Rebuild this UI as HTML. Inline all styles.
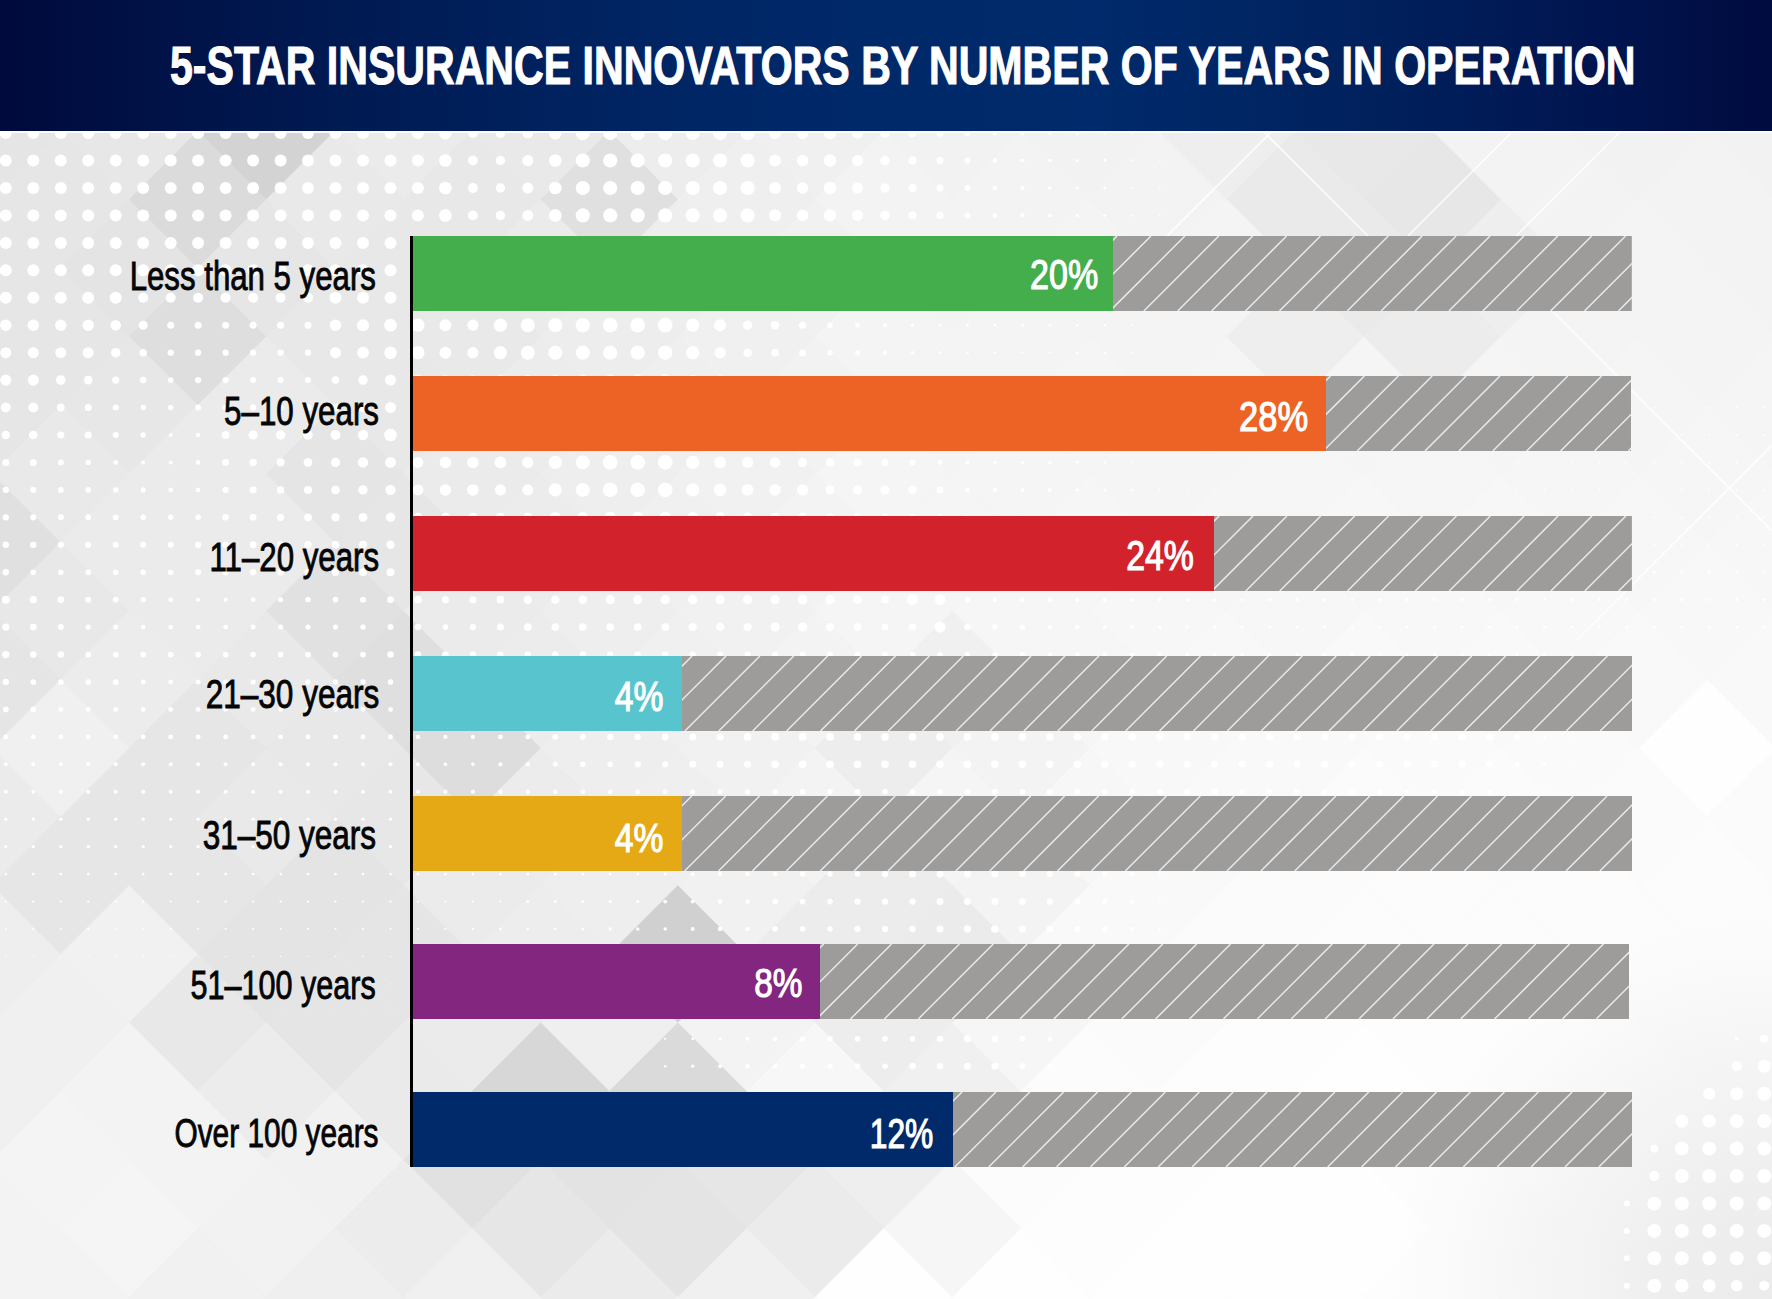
<!DOCTYPE html>
<html lang="en">
<head>
<meta charset="utf-8">
<title>5-Star Insurance Innovators by Number of Years in Operation</title>
<style>
html,body{margin:0;padding:0;}
body{width:1772px;height:1299px;overflow:hidden;position:relative;background:#ececec;font-family:"Liberation Sans",Arial,sans-serif;}
#bgsvg{position:absolute;left:0;top:0;}
#hdr{position:absolute;left:0;top:0;width:1772px;height:131px;background:linear-gradient(90deg,#000a3c 0%,#00174e 15%,#002360 33%,#00296a 48%,#002a6b 62%,#00225e 76%,#001550 90%,#000b3f 100%);}
.t{position:absolute;left:0;top:0;white-space:nowrap;line-height:1;transform-origin:0 0;}
#title{font-weight:700;font-size:55px;color:#fff;-webkit-text-stroke:1.1px #fff;}
.lab{font-weight:400;font-size:40px;color:#050505;-webkit-text-stroke:0.9px #050505;}
.pct{font-weight:400;font-size:43px;color:#fff;-webkit-text-stroke:1.2px #fff;}
#hline{position:absolute;left:0;top:131px;width:1772px;height:1.5px;background:rgba(255,255,255,0.85);}
#axis{position:absolute;left:410px;top:236px;width:3px;height:931px;background:#000;}
.bar{position:absolute;left:413px;height:75px;}
.hs{position:absolute;display:block;}
</style>
</head>
<body>
<svg id="bgsvg" width="1772" height="1299" viewBox="0 0 1772 1299"><rect width="1772" height="1299" fill="#e8e8e8"/><polygon points="-76.4,130.7 -7.8,62.1 60.8,130.7 -7.8,199.3" fill="#e5e5e5" stroke="#e5e5e5" stroke-width="0.6"/><polygon points="-76.4,267.9 -7.8,199.3 60.8,267.9 -7.8,336.5" fill="#e6e6e6" stroke="#e6e6e6" stroke-width="0.6"/><polygon points="-76.4,405.1 -7.8,336.5 60.8,405.1 -7.8,473.7" fill="#e6e6e6" stroke="#e6e6e6" stroke-width="0.6"/><polygon points="-76.4,542.3 -7.8,473.7 60.8,542.3 -7.8,610.9" fill="#e0e0e0" stroke="#e0e0e0" stroke-width="0.6"/><polygon points="-76.4,679.5 -7.8,610.9 60.8,679.5 -7.8,748.1" fill="#e5e5e5" stroke="#e5e5e5" stroke-width="0.6"/><polygon points="-76.4,816.7 -7.8,748.1 60.8,816.7 -7.8,885.3" fill="#ebebeb" stroke="#ebebeb" stroke-width="0.6"/><polygon points="-76.4,953.9 -7.8,885.3 60.8,953.9 -7.8,1022.5" fill="#eeeeee" stroke="#eeeeee" stroke-width="0.6"/><polygon points="-76.4,1091.1 -7.8,1022.5 60.8,1091.1 -7.8,1159.7" fill="#f0f0f0" stroke="#f0f0f0" stroke-width="0.6"/><polygon points="-76.4,1228.3 -7.8,1159.7 60.8,1228.3 -7.8,1296.9" fill="#f3f3f3" stroke="#f3f3f3" stroke-width="0.6"/><polygon points="-76.4,1365.5 -7.8,1296.9 60.8,1365.5 -7.8,1434.1" fill="#f4f4f4" stroke="#f4f4f4" stroke-width="0.6"/><polygon points="-7.8,199.3 60.8,130.7 129.4,199.3 60.8,267.9" fill="#e6e6e6" stroke="#e6e6e6" stroke-width="0.6"/><polygon points="-7.8,336.5 60.8,267.9 129.4,336.5 60.8,405.1" fill="#e6e6e6" stroke="#e6e6e6" stroke-width="0.6"/><polygon points="-7.8,473.7 60.8,405.1 129.4,473.7 60.8,542.3" fill="#e9e9e9" stroke="#e9e9e9" stroke-width="0.6"/><polygon points="-7.8,610.9 60.8,542.3 129.4,610.9 60.8,679.5" fill="#e8e8e8" stroke="#e8e8e8" stroke-width="0.6"/><polygon points="-7.8,748.1 60.8,679.5 129.4,748.1 60.8,816.7" fill="#f0f0f0" stroke="#f0f0f0" stroke-width="0.6"/><polygon points="-7.8,885.3 60.8,816.7 129.4,885.3 60.8,953.9" fill="#e6e6e6" stroke="#e6e6e6" stroke-width="0.6"/><polygon points="-7.8,1022.5 60.8,953.9 129.4,1022.5 60.8,1091.1" fill="#f0f0f0" stroke="#f0f0f0" stroke-width="0.6"/><polygon points="-7.8,1159.7 60.8,1091.1 129.4,1159.7 60.8,1228.3" fill="#f4f4f4" stroke="#f4f4f4" stroke-width="0.6"/><polygon points="-7.8,1296.9 60.8,1228.3 129.4,1296.9 60.8,1365.5" fill="#f3f3f3" stroke="#f3f3f3" stroke-width="0.6"/><polygon points="60.8,130.7 129.4,62.1 198.0,130.7 129.4,199.3" fill="#e7e7e7" stroke="#e7e7e7" stroke-width="0.6"/><polygon points="60.8,267.9 129.4,199.3 198.0,267.9 129.4,336.5" fill="#e4e4e4" stroke="#e4e4e4" stroke-width="0.6"/><polygon points="60.8,405.1 129.4,336.5 198.0,405.1 129.4,473.7" fill="#e7e7e7" stroke="#e7e7e7" stroke-width="0.6"/><polygon points="60.8,542.3 129.4,473.7 198.0,542.3 129.4,610.9" fill="#ebebeb" stroke="#ebebeb" stroke-width="0.6"/><polygon points="60.8,679.5 129.4,610.9 198.0,679.5 129.4,748.1" fill="#ececec" stroke="#ececec" stroke-width="0.6"/><polygon points="60.8,816.7 129.4,748.1 198.0,816.7 129.4,885.3" fill="#e6e6e6" stroke="#e6e6e6" stroke-width="0.6"/><polygon points="60.8,953.9 129.4,885.3 198.0,953.9 129.4,1022.5" fill="#f1f1f1" stroke="#f1f1f1" stroke-width="0.6"/><polygon points="60.8,1091.1 129.4,1022.5 198.0,1091.1 129.4,1159.7" fill="#f3f3f3" stroke="#f3f3f3" stroke-width="0.6"/><polygon points="60.8,1228.3 129.4,1159.7 198.0,1228.3 129.4,1296.9" fill="#f5f5f5" stroke="#f5f5f5" stroke-width="0.6"/><polygon points="60.8,1365.5 129.4,1296.9 198.0,1365.5 129.4,1434.1" fill="#f2f2f2" stroke="#f2f2f2" stroke-width="0.6"/><polygon points="129.4,199.3 198.0,130.7 266.6,199.3 198.0,267.9" fill="#dbdbdb" stroke="#dbdbdb" stroke-width="0.6"/><polygon points="129.4,336.5 198.0,267.9 266.6,336.5 198.0,405.1" fill="#dedede" stroke="#dedede" stroke-width="0.6"/><polygon points="129.4,473.7 198.0,405.1 266.6,473.7 198.0,542.3" fill="#ebebeb" stroke="#ebebeb" stroke-width="0.6"/><polygon points="129.4,610.9 198.0,542.3 266.6,610.9 198.0,679.5" fill="#ebebeb" stroke="#ebebeb" stroke-width="0.6"/><polygon points="129.4,748.1 198.0,679.5 266.6,748.1 198.0,816.7" fill="#e6e6e6" stroke="#e6e6e6" stroke-width="0.6"/><polygon points="129.4,885.3 198.0,816.7 266.6,885.3 198.0,953.9" fill="#e6e6e6" stroke="#e6e6e6" stroke-width="0.6"/><polygon points="129.4,1022.5 198.0,953.9 266.6,1022.5 198.0,1091.1" fill="#e8e8e8" stroke="#e8e8e8" stroke-width="0.6"/><polygon points="129.4,1159.7 198.0,1091.1 266.6,1159.7 198.0,1228.3" fill="#f3f3f3" stroke="#f3f3f3" stroke-width="0.6"/><polygon points="129.4,1296.9 198.0,1228.3 266.6,1296.9 198.0,1365.5" fill="#f1f1f1" stroke="#f1f1f1" stroke-width="0.6"/><polygon points="198.0,130.7 266.6,62.1 335.2,130.7 266.6,199.3" fill="#d3d3d3" stroke="#d3d3d3" stroke-width="0.6"/><polygon points="198.0,267.9 266.6,199.3 335.2,267.9 266.6,336.5" fill="#e6e6e6" stroke="#e6e6e6" stroke-width="0.6"/><polygon points="198.0,405.1 266.6,336.5 335.2,405.1 266.6,473.7" fill="#ebebeb" stroke="#ebebeb" stroke-width="0.6"/><polygon points="198.0,542.3 266.6,473.7 335.2,542.3 266.6,610.9" fill="#ebebeb" stroke="#ebebeb" stroke-width="0.6"/><polygon points="198.0,679.5 266.6,610.9 335.2,679.5 266.6,748.1" fill="#e9e9e9" stroke="#e9e9e9" stroke-width="0.6"/><polygon points="198.0,816.7 266.6,748.1 335.2,816.7 266.6,885.3" fill="#e9e9e9" stroke="#e9e9e9" stroke-width="0.6"/><polygon points="198.0,953.9 266.6,885.3 335.2,953.9 266.6,1022.5" fill="#e4e4e4" stroke="#e4e4e4" stroke-width="0.6"/><polygon points="198.0,1091.1 266.6,1022.5 335.2,1091.1 266.6,1159.7" fill="#ececec" stroke="#ececec" stroke-width="0.6"/><polygon points="198.0,1228.3 266.6,1159.7 335.2,1228.3 266.6,1296.9" fill="#f2f2f2" stroke="#f2f2f2" stroke-width="0.6"/><polygon points="198.0,1365.5 266.6,1296.9 335.2,1365.5 266.6,1434.1" fill="#f0f0f0" stroke="#f0f0f0" stroke-width="0.6"/><polygon points="266.6,199.3 335.2,130.7 403.8,199.3 335.2,267.9" fill="#e9e9e9" stroke="#e9e9e9" stroke-width="0.6"/><polygon points="266.6,336.5 335.2,267.9 403.8,336.5 335.2,405.1" fill="#e8e8e8" stroke="#e8e8e8" stroke-width="0.6"/><polygon points="266.6,473.7 335.2,405.1 403.8,473.7 335.2,542.3" fill="#e5e5e5" stroke="#e5e5e5" stroke-width="0.6"/><polygon points="266.6,610.9 335.2,542.3 403.8,610.9 335.2,679.5" fill="#e1e1e1" stroke="#e1e1e1" stroke-width="0.6"/><polygon points="266.6,748.1 335.2,679.5 403.8,748.1 335.2,816.7" fill="#e8e8e8" stroke="#e8e8e8" stroke-width="0.6"/><polygon points="266.6,885.3 335.2,816.7 403.8,885.3 335.2,953.9" fill="#e4e4e4" stroke="#e4e4e4" stroke-width="0.6"/><polygon points="266.6,1022.5 335.2,953.9 403.8,1022.5 335.2,1091.1" fill="#e5e5e5" stroke="#e5e5e5" stroke-width="0.6"/><polygon points="266.6,1159.7 335.2,1091.1 403.8,1159.7 335.2,1228.3" fill="#f1f1f1" stroke="#f1f1f1" stroke-width="0.6"/><polygon points="266.6,1296.9 335.2,1228.3 403.8,1296.9 335.2,1365.5" fill="#efefef" stroke="#efefef" stroke-width="0.6"/><polygon points="335.2,130.7 403.8,62.1 472.4,130.7 403.8,199.3" fill="#ebebeb" stroke="#ebebeb" stroke-width="0.6"/><polygon points="335.2,267.9 403.8,199.3 472.4,267.9 403.8,336.5" fill="#e8e8e8" stroke="#e8e8e8" stroke-width="0.6"/><polygon points="335.2,405.1 403.8,336.5 472.4,405.1 403.8,473.7" fill="#e8e8e8" stroke="#e8e8e8" stroke-width="0.6"/><polygon points="335.2,542.3 403.8,473.7 472.4,542.3 403.8,610.9" fill="#e6e6e6" stroke="#e6e6e6" stroke-width="0.6"/><polygon points="335.2,679.5 403.8,610.9 472.4,679.5 403.8,748.1" fill="#dfdfdf" stroke="#dfdfdf" stroke-width="0.6"/><polygon points="335.2,816.7 403.8,748.1 472.4,816.7 403.8,885.3" fill="#e7e7e7" stroke="#e7e7e7" stroke-width="0.6"/><polygon points="335.2,953.9 403.8,885.3 472.4,953.9 403.8,1022.5" fill="#e5e5e5" stroke="#e5e5e5" stroke-width="0.6"/><polygon points="335.2,1091.1 403.8,1022.5 472.4,1091.1 403.8,1159.7" fill="#eaeaea" stroke="#eaeaea" stroke-width="0.6"/><polygon points="335.2,1228.3 403.8,1159.7 472.4,1228.3 403.8,1296.9" fill="#ececec" stroke="#ececec" stroke-width="0.6"/><polygon points="335.2,1365.5 403.8,1296.9 472.4,1365.5 403.8,1434.1" fill="#efefef" stroke="#efefef" stroke-width="0.6"/><polygon points="403.8,199.3 472.4,130.7 541.0,199.3 472.4,267.9" fill="#e8e8e8" stroke="#e8e8e8" stroke-width="0.6"/><polygon points="403.8,336.5 472.4,267.9 541.0,336.5 472.4,405.1" fill="#e9e9e9" stroke="#e9e9e9" stroke-width="0.6"/><polygon points="403.8,473.7 472.4,405.1 541.0,473.7 472.4,542.3" fill="#ebebeb" stroke="#ebebeb" stroke-width="0.6"/><polygon points="403.8,610.9 472.4,542.3 541.0,610.9 472.4,679.5" fill="#ebebeb" stroke="#ebebeb" stroke-width="0.6"/><polygon points="403.8,748.1 472.4,679.5 541.0,748.1 472.4,816.7" fill="#dddddd" stroke="#dddddd" stroke-width="0.6"/><polygon points="403.8,885.3 472.4,816.7 541.0,885.3 472.4,953.9" fill="#ebebeb" stroke="#ebebeb" stroke-width="0.6"/><polygon points="403.8,1022.5 472.4,953.9 541.0,1022.5 472.4,1091.1" fill="#ebebeb" stroke="#ebebeb" stroke-width="0.6"/><polygon points="403.8,1159.7 472.4,1091.1 541.0,1159.7 472.4,1228.3" fill="#e1e1e1" stroke="#e1e1e1" stroke-width="0.6"/><polygon points="403.8,1296.9 472.4,1228.3 541.0,1296.9 472.4,1365.5" fill="#f0f0f0" stroke="#f0f0f0" stroke-width="0.6"/><polygon points="472.4,130.7 541.0,62.1 609.6,130.7 541.0,199.3" fill="#e9e9e9" stroke="#e9e9e9" stroke-width="0.6"/><polygon points="472.4,267.9 541.0,199.3 609.6,267.9 541.0,336.5" fill="#ebebeb" stroke="#ebebeb" stroke-width="0.6"/><polygon points="472.4,405.1 541.0,336.5 609.6,405.1 541.0,473.7" fill="#ececec" stroke="#ececec" stroke-width="0.6"/><polygon points="472.4,542.3 541.0,473.7 609.6,542.3 541.0,610.9" fill="#ececec" stroke="#ececec" stroke-width="0.6"/><polygon points="472.4,679.5 541.0,610.9 609.6,679.5 541.0,748.1" fill="#ececec" stroke="#ececec" stroke-width="0.6"/><polygon points="472.4,816.7 541.0,748.1 609.6,816.7 541.0,885.3" fill="#ececec" stroke="#ececec" stroke-width="0.6"/><polygon points="472.4,953.9 541.0,885.3 609.6,953.9 541.0,1022.5" fill="#ededed" stroke="#ededed" stroke-width="0.6"/><polygon points="472.4,1091.1 541.0,1022.5 609.6,1091.1 541.0,1159.7" fill="#d7d7d7" stroke="#d7d7d7" stroke-width="0.6"/><polygon points="472.4,1228.3 541.0,1159.7 609.6,1228.3 541.0,1296.9" fill="#e6e6e6" stroke="#e6e6e6" stroke-width="0.6"/><polygon points="472.4,1365.5 541.0,1296.9 609.6,1365.5 541.0,1434.1" fill="#f2f2f2" stroke="#f2f2f2" stroke-width="0.6"/><polygon points="541.0,199.3 609.6,130.7 678.2,199.3 609.6,267.9" fill="#e0e0e0" stroke="#e0e0e0" stroke-width="0.6"/><polygon points="541.0,336.5 609.6,267.9 678.2,336.5 609.6,405.1" fill="#ededed" stroke="#ededed" stroke-width="0.6"/><polygon points="541.0,473.7 609.6,405.1 678.2,473.7 609.6,542.3" fill="#eeeeee" stroke="#eeeeee" stroke-width="0.6"/><polygon points="541.0,610.9 609.6,542.3 678.2,610.9 609.6,679.5" fill="#eeeeee" stroke="#eeeeee" stroke-width="0.6"/><polygon points="541.0,748.1 609.6,679.5 678.2,748.1 609.6,816.7" fill="#eeeeee" stroke="#eeeeee" stroke-width="0.6"/><polygon points="541.0,885.3 609.6,816.7 678.2,885.3 609.6,953.9" fill="#eeeeee" stroke="#eeeeee" stroke-width="0.6"/><polygon points="541.0,1022.5 609.6,953.9 678.2,1022.5 609.6,1091.1" fill="#efefef" stroke="#efefef" stroke-width="0.6"/><polygon points="541.0,1159.7 609.6,1091.1 678.2,1159.7 609.6,1228.3" fill="#e3e3e3" stroke="#e3e3e3" stroke-width="0.6"/><polygon points="541.0,1296.9 609.6,1228.3 678.2,1296.9 609.6,1365.5" fill="#ebebeb" stroke="#ebebeb" stroke-width="0.6"/><polygon points="609.6,130.7 678.2,62.1 746.8,130.7 678.2,199.3" fill="#ededed" stroke="#ededed" stroke-width="0.6"/><polygon points="609.6,267.9 678.2,199.3 746.8,267.9 678.2,336.5" fill="#eeeeee" stroke="#eeeeee" stroke-width="0.6"/><polygon points="609.6,405.1 678.2,336.5 746.8,405.1 678.2,473.7" fill="#efefef" stroke="#efefef" stroke-width="0.6"/><polygon points="609.6,542.3 678.2,473.7 746.8,542.3 678.2,610.9" fill="#f0f0f0" stroke="#f0f0f0" stroke-width="0.6"/><polygon points="609.6,679.5 678.2,610.9 746.8,679.5 678.2,748.1" fill="#f0f0f0" stroke="#f0f0f0" stroke-width="0.6"/><polygon points="609.6,816.7 678.2,748.1 746.8,816.7 678.2,885.3" fill="#efefef" stroke="#efefef" stroke-width="0.6"/><polygon points="609.6,953.9 678.2,885.3 746.8,953.9 678.2,1022.5" fill="#d0d0d0" stroke="#d0d0d0" stroke-width="0.6"/><polygon points="609.6,1091.1 678.2,1022.5 746.8,1091.1 678.2,1159.7" fill="#dadada" stroke="#dadada" stroke-width="0.6"/><polygon points="609.6,1228.3 678.2,1159.7 746.8,1228.3 678.2,1296.9" fill="#e4e4e4" stroke="#e4e4e4" stroke-width="0.6"/><polygon points="609.6,1365.5 678.2,1296.9 746.8,1365.5 678.2,1434.1" fill="#f6f6f6" stroke="#f6f6f6" stroke-width="0.6"/><polygon points="678.2,199.3 746.8,130.7 815.4,199.3 746.8,267.9" fill="#efefef" stroke="#efefef" stroke-width="0.6"/><polygon points="678.2,336.5 746.8,267.9 815.4,336.5 746.8,405.1" fill="#f0f0f0" stroke="#f0f0f0" stroke-width="0.6"/><polygon points="678.2,473.7 746.8,405.1 815.4,473.7 746.8,542.3" fill="#f1f1f1" stroke="#f1f1f1" stroke-width="0.6"/><polygon points="678.2,610.9 746.8,542.3 815.4,610.9 746.8,679.5" fill="#f1f1f1" stroke="#f1f1f1" stroke-width="0.6"/><polygon points="678.2,748.1 746.8,679.5 815.4,748.1 746.8,816.7" fill="#f1f1f1" stroke="#f1f1f1" stroke-width="0.6"/><polygon points="678.2,885.3 746.8,816.7 815.4,885.3 746.8,953.9" fill="#f1f1f1" stroke="#f1f1f1" stroke-width="0.6"/><polygon points="678.2,1022.5 746.8,953.9 815.4,1022.5 746.8,1091.1" fill="#f3f3f3" stroke="#f3f3f3" stroke-width="0.6"/><polygon points="678.2,1159.7 746.8,1091.1 815.4,1159.7 746.8,1228.3" fill="#e6e6e6" stroke="#e6e6e6" stroke-width="0.6"/><polygon points="678.2,1296.9 746.8,1228.3 815.4,1296.9 746.8,1365.5" fill="#f0f0f0" stroke="#f0f0f0" stroke-width="0.6"/><polygon points="746.8,130.7 815.4,62.1 884.0,130.7 815.4,199.3" fill="#f0f0f0" stroke="#f0f0f0" stroke-width="0.6"/><polygon points="746.8,267.9 815.4,199.3 884.0,267.9 815.4,336.5" fill="#f1f1f1" stroke="#f1f1f1" stroke-width="0.6"/><polygon points="746.8,405.1 815.4,336.5 884.0,405.1 815.4,473.7" fill="#f2f2f2" stroke="#f2f2f2" stroke-width="0.6"/><polygon points="746.8,542.3 815.4,473.7 884.0,542.3 815.4,610.9" fill="#f3f3f3" stroke="#f3f3f3" stroke-width="0.6"/><polygon points="746.8,679.5 815.4,610.9 884.0,679.5 815.4,748.1" fill="#f3f3f3" stroke="#f3f3f3" stroke-width="0.6"/><polygon points="746.8,816.7 815.4,748.1 884.0,816.7 815.4,885.3" fill="#f3f3f3" stroke="#f3f3f3" stroke-width="0.6"/><polygon points="746.8,953.9 815.4,885.3 884.0,953.9 815.4,1022.5" fill="#ececec" stroke="#ececec" stroke-width="0.6"/><polygon points="746.8,1091.1 815.4,1022.5 884.0,1091.1 815.4,1159.7" fill="#f7f7f7" stroke="#f7f7f7" stroke-width="0.6"/><polygon points="746.8,1228.3 815.4,1159.7 884.0,1228.3 815.4,1296.9" fill="#ebebeb" stroke="#ebebeb" stroke-width="0.6"/><polygon points="746.8,1365.5 815.4,1296.9 884.0,1365.5 815.4,1434.1" fill="#fbfbfb" stroke="#fbfbfb" stroke-width="0.6"/><polygon points="815.4,199.3 884.0,130.7 952.6,199.3 884.0,267.9" fill="#f3f3f3" stroke="#f3f3f3" stroke-width="0.6"/><polygon points="815.4,336.5 884.0,267.9 952.6,336.5 884.0,405.1" fill="#f4f4f4" stroke="#f4f4f4" stroke-width="0.6"/><polygon points="815.4,473.7 884.0,405.1 952.6,473.7 884.0,542.3" fill="#f5f5f5" stroke="#f5f5f5" stroke-width="0.6"/><polygon points="815.4,610.9 884.0,542.3 952.6,610.9 884.0,679.5" fill="#f5f5f5" stroke="#f5f5f5" stroke-width="0.6"/><polygon points="815.4,748.1 884.0,679.5 952.6,748.1 884.0,816.7" fill="#ededed" stroke="#ededed" stroke-width="0.6"/><polygon points="815.4,885.3 884.0,816.7 952.6,885.3 884.0,953.9" fill="#ececec" stroke="#ececec" stroke-width="0.6"/><polygon points="815.4,1022.5 884.0,953.9 952.6,1022.5 884.0,1091.1" fill="#ededed" stroke="#ededed" stroke-width="0.6"/><polygon points="815.4,1159.7 884.0,1091.1 952.6,1159.7 884.0,1228.3" fill="#eeeeee" stroke="#eeeeee" stroke-width="0.6"/><polygon points="815.4,1296.9 884.0,1228.3 952.6,1296.9 884.0,1365.5" fill="#fefefe" stroke="#fefefe" stroke-width="0.6"/><polygon points="884.0,130.7 952.6,62.1 1021.2,130.7 952.6,199.3" fill="#f2f2f2" stroke="#f2f2f2" stroke-width="0.6"/><polygon points="884.0,267.9 952.6,199.3 1021.2,267.9 952.6,336.5" fill="#f3f3f3" stroke="#f3f3f3" stroke-width="0.6"/><polygon points="884.0,405.1 952.6,336.5 1021.2,405.1 952.6,473.7" fill="#f4f4f4" stroke="#f4f4f4" stroke-width="0.6"/><polygon points="884.0,542.3 952.6,473.7 1021.2,542.3 952.6,610.9" fill="#f5f5f5" stroke="#f5f5f5" stroke-width="0.6"/><polygon points="884.0,679.5 952.6,610.9 1021.2,679.5 952.6,748.1" fill="#f0f0f0" stroke="#f0f0f0" stroke-width="0.6"/><polygon points="884.0,816.7 952.6,748.1 1021.2,816.7 952.6,885.3" fill="#f5f5f5" stroke="#f5f5f5" stroke-width="0.6"/><polygon points="884.0,953.9 952.6,885.3 1021.2,953.9 952.6,1022.5" fill="#ebebeb" stroke="#ebebeb" stroke-width="0.6"/><polygon points="884.0,1091.1 952.6,1022.5 1021.2,1091.1 952.6,1159.7" fill="#f0f0f0" stroke="#f0f0f0" stroke-width="0.6"/><polygon points="884.0,1228.3 952.6,1159.7 1021.2,1228.3 952.6,1296.9" fill="#f6f6f6" stroke="#f6f6f6" stroke-width="0.6"/><polygon points="884.0,1365.5 952.6,1296.9 1021.2,1365.5 952.6,1434.1" fill="#fefefe" stroke="#fefefe" stroke-width="0.6"/><polygon points="952.6,199.3 1021.2,130.7 1089.8,199.3 1021.2,267.9" fill="#f3f3f3" stroke="#f3f3f3" stroke-width="0.6"/><polygon points="952.6,336.5 1021.2,267.9 1089.8,336.5 1021.2,405.1" fill="#f4f4f4" stroke="#f4f4f4" stroke-width="0.6"/><polygon points="952.6,473.7 1021.2,405.1 1089.8,473.7 1021.2,542.3" fill="#f5f5f5" stroke="#f5f5f5" stroke-width="0.6"/><polygon points="952.6,610.9 1021.2,542.3 1089.8,610.9 1021.2,679.5" fill="#f6f6f6" stroke="#f6f6f6" stroke-width="0.6"/><polygon points="952.6,748.1 1021.2,679.5 1089.8,748.1 1021.2,816.7" fill="#f3f3f3" stroke="#f3f3f3" stroke-width="0.6"/><polygon points="952.6,885.3 1021.2,816.7 1089.8,885.3 1021.2,953.9" fill="#f3f3f3" stroke="#f3f3f3" stroke-width="0.6"/><polygon points="952.6,1022.5 1021.2,953.9 1089.8,1022.5 1021.2,1091.1" fill="#f6f6f6" stroke="#f6f6f6" stroke-width="0.6"/><polygon points="952.6,1159.7 1021.2,1091.1 1089.8,1159.7 1021.2,1228.3" fill="#fcfcfc" stroke="#fcfcfc" stroke-width="0.6"/><polygon points="952.6,1296.9 1021.2,1228.3 1089.8,1296.9 1021.2,1365.5" fill="#fefefe" stroke="#fefefe" stroke-width="0.6"/><polygon points="1021.2,130.7 1089.8,62.1 1158.4,130.7 1089.8,199.3" fill="#f2f2f2" stroke="#f2f2f2" stroke-width="0.6"/><polygon points="1021.2,267.9 1089.8,199.3 1158.4,267.9 1089.8,336.5" fill="#f4f4f4" stroke="#f4f4f4" stroke-width="0.6"/><polygon points="1021.2,405.1 1089.8,336.5 1158.4,405.1 1089.8,473.7" fill="#f5f5f5" stroke="#f5f5f5" stroke-width="0.6"/><polygon points="1021.2,542.3 1089.8,473.7 1158.4,542.3 1089.8,610.9" fill="#f6f6f6" stroke="#f6f6f6" stroke-width="0.6"/><polygon points="1021.2,679.5 1089.8,610.9 1158.4,679.5 1089.8,748.1" fill="#f6f6f6" stroke="#f6f6f6" stroke-width="0.6"/><polygon points="1021.2,816.7 1089.8,748.1 1158.4,816.7 1089.8,885.3" fill="#f7f7f7" stroke="#f7f7f7" stroke-width="0.6"/><polygon points="1021.2,953.9 1089.8,885.3 1158.4,953.9 1089.8,1022.5" fill="#f9f9f9" stroke="#f9f9f9" stroke-width="0.6"/><polygon points="1021.2,1091.1 1089.8,1022.5 1158.4,1091.1 1089.8,1159.7" fill="#fcfcfc" stroke="#fcfcfc" stroke-width="0.6"/><polygon points="1021.2,1228.3 1089.8,1159.7 1158.4,1228.3 1089.8,1296.9" fill="#fdfdfd" stroke="#fdfdfd" stroke-width="0.6"/><polygon points="1021.2,1365.5 1089.8,1296.9 1158.4,1365.5 1089.8,1434.1" fill="#fefefe" stroke="#fefefe" stroke-width="0.6"/><polygon points="1089.8,199.3 1158.4,130.7 1227.0,199.3 1158.4,267.9" fill="#f3f3f3" stroke="#f3f3f3" stroke-width="0.6"/><polygon points="1089.8,336.5 1158.4,267.9 1227.0,336.5 1158.4,405.1" fill="#f4f4f4" stroke="#f4f4f4" stroke-width="0.6"/><polygon points="1089.8,473.7 1158.4,405.1 1227.0,473.7 1158.4,542.3" fill="#f5f5f5" stroke="#f5f5f5" stroke-width="0.6"/><polygon points="1089.8,610.9 1158.4,542.3 1227.0,610.9 1158.4,679.5" fill="#f7f7f7" stroke="#f7f7f7" stroke-width="0.6"/><polygon points="1089.8,748.1 1158.4,679.5 1227.0,748.1 1158.4,816.7" fill="#f8f8f8" stroke="#f8f8f8" stroke-width="0.6"/><polygon points="1089.8,885.3 1158.4,816.7 1227.0,885.3 1158.4,953.9" fill="#f9f9f9" stroke="#f9f9f9" stroke-width="0.6"/><polygon points="1089.8,1022.5 1158.4,953.9 1227.0,1022.5 1158.4,1091.1" fill="#fbfbfb" stroke="#fbfbfb" stroke-width="0.6"/><polygon points="1089.8,1159.7 1158.4,1091.1 1227.0,1159.7 1158.4,1228.3" fill="#fdfdfd" stroke="#fdfdfd" stroke-width="0.6"/><polygon points="1089.8,1296.9 1158.4,1228.3 1227.0,1296.9 1158.4,1365.5" fill="#fefefe" stroke="#fefefe" stroke-width="0.6"/><polygon points="1158.4,130.7 1227.0,62.1 1295.6,130.7 1227.0,199.3" fill="#eeeeee" stroke="#eeeeee" stroke-width="0.6"/><polygon points="1158.4,267.9 1227.0,199.3 1295.6,267.9 1227.0,336.5" fill="#f4f4f4" stroke="#f4f4f4" stroke-width="0.6"/><polygon points="1158.4,405.1 1227.0,336.5 1295.6,405.1 1227.0,473.7" fill="#f5f5f5" stroke="#f5f5f5" stroke-width="0.6"/><polygon points="1158.4,542.3 1227.0,473.7 1295.6,542.3 1227.0,610.9" fill="#f6f6f6" stroke="#f6f6f6" stroke-width="0.6"/><polygon points="1158.4,679.5 1227.0,610.9 1295.6,679.5 1227.0,748.1" fill="#f8f8f8" stroke="#f8f8f8" stroke-width="0.6"/><polygon points="1158.4,816.7 1227.0,748.1 1295.6,816.7 1227.0,885.3" fill="#f9f9f9" stroke="#f9f9f9" stroke-width="0.6"/><polygon points="1158.4,953.9 1227.0,885.3 1295.6,953.9 1227.0,1022.5" fill="#fbfbfb" stroke="#fbfbfb" stroke-width="0.6"/><polygon points="1158.4,1091.1 1227.0,1022.5 1295.6,1091.1 1227.0,1159.7" fill="#fdfdfd" stroke="#fdfdfd" stroke-width="0.6"/><polygon points="1158.4,1228.3 1227.0,1159.7 1295.6,1228.3 1227.0,1296.9" fill="#fefefe" stroke="#fefefe" stroke-width="0.6"/><polygon points="1158.4,1365.5 1227.0,1296.9 1295.6,1365.5 1227.0,1434.1" fill="#fefefe" stroke="#fefefe" stroke-width="0.6"/><polygon points="1227.0,199.3 1295.6,130.7 1364.2,199.3 1295.6,267.9" fill="#eaeaea" stroke="#eaeaea" stroke-width="0.6"/><polygon points="1227.0,336.5 1295.6,267.9 1364.2,336.5 1295.6,405.1" fill="#eeeeee" stroke="#eeeeee" stroke-width="0.6"/><polygon points="1227.0,473.7 1295.6,405.1 1364.2,473.7 1295.6,542.3" fill="#f6f6f6" stroke="#f6f6f6" stroke-width="0.6"/><polygon points="1227.0,610.9 1295.6,542.3 1364.2,610.9 1295.6,679.5" fill="#f7f7f7" stroke="#f7f7f7" stroke-width="0.6"/><polygon points="1227.0,748.1 1295.6,679.5 1364.2,748.1 1295.6,816.7" fill="#f9f9f9" stroke="#f9f9f9" stroke-width="0.6"/><polygon points="1227.0,885.3 1295.6,816.7 1364.2,885.3 1295.6,953.9" fill="#fbfbfb" stroke="#fbfbfb" stroke-width="0.6"/><polygon points="1227.0,1022.5 1295.6,953.9 1364.2,1022.5 1295.6,1091.1" fill="#fdfdfd" stroke="#fdfdfd" stroke-width="0.6"/><polygon points="1227.0,1159.7 1295.6,1091.1 1364.2,1159.7 1295.6,1228.3" fill="#fefefe" stroke="#fefefe" stroke-width="0.6"/><polygon points="1227.0,1296.9 1295.6,1228.3 1364.2,1296.9 1295.6,1365.5" fill="#fefefe" stroke="#fefefe" stroke-width="0.6"/><polygon points="1295.6,130.7 1364.2,62.1 1432.8,130.7 1364.2,199.3" fill="#e8e8e8" stroke="#e8e8e8" stroke-width="0.6"/><polygon points="1295.6,267.9 1364.2,199.3 1432.8,267.9 1364.2,336.5" fill="#eaeaea" stroke="#eaeaea" stroke-width="0.6"/><polygon points="1295.6,405.1 1364.2,336.5 1432.8,405.1 1364.2,473.7" fill="#f5f5f5" stroke="#f5f5f5" stroke-width="0.6"/><polygon points="1295.6,542.3 1364.2,473.7 1432.8,542.3 1364.2,610.9" fill="#f7f7f7" stroke="#f7f7f7" stroke-width="0.6"/><polygon points="1295.6,679.5 1364.2,610.9 1432.8,679.5 1364.2,748.1" fill="#f9f9f9" stroke="#f9f9f9" stroke-width="0.6"/><polygon points="1295.6,816.7 1364.2,748.1 1432.8,816.7 1364.2,885.3" fill="#fbfbfb" stroke="#fbfbfb" stroke-width="0.6"/><polygon points="1295.6,953.9 1364.2,885.3 1432.8,953.9 1364.2,1022.5" fill="#fcfcfc" stroke="#fcfcfc" stroke-width="0.6"/><polygon points="1295.6,1091.1 1364.2,1022.5 1432.8,1091.1 1364.2,1159.7" fill="#fefefe" stroke="#fefefe" stroke-width="0.6"/><polygon points="1295.6,1228.3 1364.2,1159.7 1432.8,1228.3 1364.2,1296.9" fill="#fefefe" stroke="#fefefe" stroke-width="0.6"/><polygon points="1295.6,1365.5 1364.2,1296.9 1432.8,1365.5 1364.2,1434.1" fill="#fefefe" stroke="#fefefe" stroke-width="0.6"/><polygon points="1364.2,199.3 1432.8,130.7 1501.4,199.3 1432.8,267.9" fill="#e7e7e7" stroke="#e7e7e7" stroke-width="0.6"/><polygon points="1364.2,336.5 1432.8,267.9 1501.4,336.5 1432.8,405.1" fill="#ececec" stroke="#ececec" stroke-width="0.6"/><polygon points="1364.2,473.7 1432.8,405.1 1501.4,473.7 1432.8,542.3" fill="#f6f6f6" stroke="#f6f6f6" stroke-width="0.6"/><polygon points="1364.2,610.9 1432.8,542.3 1501.4,610.9 1432.8,679.5" fill="#f8f8f8" stroke="#f8f8f8" stroke-width="0.6"/><polygon points="1364.2,748.1 1432.8,679.5 1501.4,748.1 1432.8,816.7" fill="#fafafa" stroke="#fafafa" stroke-width="0.6"/><polygon points="1364.2,885.3 1432.8,816.7 1501.4,885.3 1432.8,953.9" fill="#fcfcfc" stroke="#fcfcfc" stroke-width="0.6"/><polygon points="1364.2,1022.5 1432.8,953.9 1501.4,1022.5 1432.8,1091.1" fill="#fdfdfd" stroke="#fdfdfd" stroke-width="0.6"/><polygon points="1364.2,1159.7 1432.8,1091.1 1501.4,1159.7 1432.8,1228.3" fill="#fdfdfd" stroke="#fdfdfd" stroke-width="0.6"/><polygon points="1364.2,1296.9 1432.8,1228.3 1501.4,1296.9 1432.8,1365.5" fill="#fdfdfd" stroke="#fdfdfd" stroke-width="0.6"/><polygon points="1432.8,130.7 1501.4,62.1 1570.0,130.7 1501.4,199.3" fill="#f3f3f3" stroke="#f3f3f3" stroke-width="0.6"/><polygon points="1432.8,267.9 1501.4,199.3 1570.0,267.9 1501.4,336.5" fill="#eeeeee" stroke="#eeeeee" stroke-width="0.6"/><polygon points="1432.8,405.1 1501.4,336.5 1570.0,405.1 1501.4,473.7" fill="#f5f5f5" stroke="#f5f5f5" stroke-width="0.6"/><polygon points="1432.8,542.3 1501.4,473.7 1570.0,542.3 1501.4,610.9" fill="#f7f7f7" stroke="#f7f7f7" stroke-width="0.6"/><polygon points="1432.8,679.5 1501.4,610.9 1570.0,679.5 1501.4,748.1" fill="#f9f9f9" stroke="#f9f9f9" stroke-width="0.6"/><polygon points="1432.8,816.7 1501.4,748.1 1570.0,816.7 1501.4,885.3" fill="#fbfbfb" stroke="#fbfbfb" stroke-width="0.6"/><polygon points="1432.8,953.9 1501.4,885.3 1570.0,953.9 1501.4,1022.5" fill="#fcfcfc" stroke="#fcfcfc" stroke-width="0.6"/><polygon points="1432.8,1091.1 1501.4,1022.5 1570.0,1091.1 1501.4,1159.7" fill="#fdfdfd" stroke="#fdfdfd" stroke-width="0.6"/><polygon points="1432.8,1228.3 1501.4,1159.7 1570.0,1228.3 1501.4,1296.9" fill="#fdfdfd" stroke="#fdfdfd" stroke-width="0.6"/><polygon points="1432.8,1365.5 1501.4,1296.9 1570.0,1365.5 1501.4,1434.1" fill="#fcfcfc" stroke="#fcfcfc" stroke-width="0.6"/><polygon points="1501.4,199.3 1570.0,130.7 1638.6,199.3 1570.0,267.9" fill="#f3f3f3" stroke="#f3f3f3" stroke-width="0.6"/><polygon points="1501.4,336.5 1570.0,267.9 1638.6,336.5 1570.0,405.1" fill="#f4f4f4" stroke="#f4f4f4" stroke-width="0.6"/><polygon points="1501.4,473.7 1570.0,405.1 1638.6,473.7 1570.0,542.3" fill="#f6f6f6" stroke="#f6f6f6" stroke-width="0.6"/><polygon points="1501.4,610.9 1570.0,542.3 1638.6,610.9 1570.0,679.5" fill="#f8f8f8" stroke="#f8f8f8" stroke-width="0.6"/><polygon points="1501.4,748.1 1570.0,679.5 1638.6,748.1 1570.0,816.7" fill="#fafafa" stroke="#fafafa" stroke-width="0.6"/><polygon points="1501.4,885.3 1570.0,816.7 1638.6,885.3 1570.0,953.9" fill="#fcfcfc" stroke="#fcfcfc" stroke-width="0.6"/><polygon points="1501.4,1022.5 1570.0,953.9 1638.6,1022.5 1570.0,1091.1" fill="#fdfdfd" stroke="#fdfdfd" stroke-width="0.6"/><polygon points="1501.4,1159.7 1570.0,1091.1 1638.6,1159.7 1570.0,1228.3" fill="#fefefe" stroke="#fefefe" stroke-width="0.6"/><polygon points="1501.4,1296.9 1570.0,1228.3 1638.6,1296.9 1570.0,1365.5" fill="#fefefe" stroke="#fefefe" stroke-width="0.6"/><polygon points="1570.0,130.7 1638.6,62.1 1707.2,130.7 1638.6,199.3" fill="#f2f2f2" stroke="#f2f2f2" stroke-width="0.6"/><polygon points="1570.0,267.9 1638.6,199.3 1707.2,267.9 1638.6,336.5" fill="#f4f4f4" stroke="#f4f4f4" stroke-width="0.6"/><polygon points="1570.0,405.1 1638.6,336.5 1707.2,405.1 1638.6,473.7" fill="#f5f5f5" stroke="#f5f5f5" stroke-width="0.6"/><polygon points="1570.0,542.3 1638.6,473.7 1707.2,542.3 1638.6,610.9" fill="#f7f7f7" stroke="#f7f7f7" stroke-width="0.6"/><polygon points="1570.0,679.5 1638.6,610.9 1707.2,679.5 1638.6,748.1" fill="#f9f9f9" stroke="#f9f9f9" stroke-width="0.6"/><polygon points="1570.0,816.7 1638.6,748.1 1707.2,816.7 1638.6,885.3" fill="#fbfbfb" stroke="#fbfbfb" stroke-width="0.6"/><polygon points="1570.0,953.9 1638.6,885.3 1707.2,953.9 1638.6,1022.5" fill="#fcfcfc" stroke="#fcfcfc" stroke-width="0.6"/><polygon points="1570.0,1091.1 1638.6,1022.5 1707.2,1091.1 1638.6,1159.7" fill="#fdfdfd" stroke="#fdfdfd" stroke-width="0.6"/><polygon points="1570.0,1228.3 1638.6,1159.7 1707.2,1228.3 1638.6,1296.9" fill="#fdfdfd" stroke="#fdfdfd" stroke-width="0.6"/><polygon points="1570.0,1365.5 1638.6,1296.9 1707.2,1365.5 1638.6,1434.1" fill="#fefefe" stroke="#fefefe" stroke-width="0.6"/><polygon points="1638.6,199.3 1707.2,130.7 1775.8,199.3 1707.2,267.9" fill="#f3f3f3" stroke="#f3f3f3" stroke-width="0.6"/><polygon points="1638.6,336.5 1707.2,267.9 1775.8,336.5 1707.2,405.1" fill="#f4f4f4" stroke="#f4f4f4" stroke-width="0.6"/><polygon points="1638.6,473.7 1707.2,405.1 1775.8,473.7 1707.2,542.3" fill="#f6f6f6" stroke="#f6f6f6" stroke-width="0.6"/><polygon points="1638.6,610.9 1707.2,542.3 1775.8,610.9 1707.2,679.5" fill="#f8f8f8" stroke="#f8f8f8" stroke-width="0.6"/><polygon points="1638.6,748.1 1707.2,679.5 1775.8,748.1 1707.2,816.7" fill="#fefefe" stroke="#fefefe" stroke-width="0.6"/><polygon points="1638.6,885.3 1707.2,816.7 1775.8,885.3 1707.2,953.9" fill="#fcfcfc" stroke="#fcfcfc" stroke-width="0.6"/><polygon points="1638.6,1022.5 1707.2,953.9 1775.8,1022.5 1707.2,1091.1" fill="#fcfcfc" stroke="#fcfcfc" stroke-width="0.6"/><polygon points="1638.6,1159.7 1707.2,1091.1 1775.8,1159.7 1707.2,1228.3" fill="#fcfcfc" stroke="#fcfcfc" stroke-width="0.6"/><polygon points="1638.6,1296.9 1707.2,1228.3 1775.8,1296.9 1707.2,1365.5" fill="#fcfcfc" stroke="#fcfcfc" stroke-width="0.6"/><polygon points="1707.2,130.7 1775.8,62.1 1844.4,130.7 1775.8,199.3" fill="#f2f2f2" stroke="#f2f2f2" stroke-width="0.6"/><polygon points="1707.2,267.9 1775.8,199.3 1844.4,267.9 1775.8,336.5" fill="#f3f3f3" stroke="#f3f3f3" stroke-width="0.6"/><polygon points="1707.2,405.1 1775.8,336.5 1844.4,405.1 1775.8,473.7" fill="#f5f5f5" stroke="#f5f5f5" stroke-width="0.6"/><polygon points="1707.2,542.3 1775.8,473.7 1844.4,542.3 1775.8,610.9" fill="#f7f7f7" stroke="#f7f7f7" stroke-width="0.6"/><polygon points="1707.2,679.5 1775.8,610.9 1844.4,679.5 1775.8,748.1" fill="#f9f9f9" stroke="#f9f9f9" stroke-width="0.6"/><polygon points="1707.2,816.7 1775.8,748.1 1844.4,816.7 1775.8,885.3" fill="#fbfbfb" stroke="#fbfbfb" stroke-width="0.6"/><polygon points="1707.2,953.9 1775.8,885.3 1844.4,953.9 1775.8,1022.5" fill="#fcfcfc" stroke="#fcfcfc" stroke-width="0.6"/><polygon points="1707.2,1091.1 1775.8,1022.5 1844.4,1091.1 1775.8,1159.7" fill="#fcfcfc" stroke="#fcfcfc" stroke-width="0.6"/><polygon points="1707.2,1228.3 1775.8,1159.7 1844.4,1228.3 1775.8,1296.9" fill="#fcfcfc" stroke="#fcfcfc" stroke-width="0.6"/><polygon points="1707.2,1365.5 1775.8,1296.9 1844.4,1365.5 1775.8,1434.1" fill="#fcfcfc" stroke="#fcfcfc" stroke-width="0.6"/><defs><radialGradient id="cg" gradientUnits="userSpaceOnUse" cx="1772" cy="1299" r="380"><stop offset="0" stop-color="#ebebeb" stop-opacity="1"/><stop offset="0.3" stop-color="#ededed" stop-opacity="0.9"/><stop offset="1" stop-color="#ededed" stop-opacity="0"/></radialGradient></defs><rect x="1300" y="880" width="472" height="419" fill="url(#cg)"/><g fill="#fff"><circle cx="5.8" cy="133.1" r="6.00"/><circle cx="33.3" cy="133.1" r="6.00"/><circle cx="60.8" cy="133.1" r="6.00"/><circle cx="88.2" cy="133.1" r="6.00"/><circle cx="115.7" cy="133.1" r="6.00"/><circle cx="143.2" cy="133.1" r="6.00"/><circle cx="170.7" cy="133.1" r="6.00"/><circle cx="198.1" cy="133.1" r="6.00"/><circle cx="225.6" cy="133.1" r="6.00"/><circle cx="253.1" cy="133.1" r="6.00"/><circle cx="280.6" cy="133.1" r="6.00"/><circle cx="308.0" cy="133.1" r="6.00"/><circle cx="335.5" cy="133.1" r="6.00"/><circle cx="363.0" cy="133.1" r="6.00"/><circle cx="390.5" cy="133.1" r="6.00"/><circle cx="417.9" cy="133.1" r="6.00"/><circle cx="445.4" cy="133.1" r="6.35"/><circle cx="472.9" cy="133.1" r="4.90"/><circle cx="500.4" cy="133.1" r="4.75"/><circle cx="527.8" cy="133.1" r="5.50"/><circle cx="555.3" cy="133.1" r="6.35"/><circle cx="582.8" cy="133.1" r="7.10"/><circle cx="610.2" cy="133.1" r="7.10"/><circle cx="637.7" cy="133.1" r="7.10"/><circle cx="665.2" cy="133.1" r="7.10"/><circle cx="692.7" cy="133.1" r="7.10"/><circle cx="720.1" cy="133.1" r="7.10"/><circle cx="747.6" cy="133.1" r="7.10"/><circle cx="775.1" cy="133.1" r="6.05"/><circle cx="802.6" cy="133.1" r="5.80"/><circle cx="830.0" cy="133.1" r="6.25"/><circle cx="857.5" cy="133.1" r="5.50"/><circle cx="885.0" cy="133.1" r="4.75"/><circle cx="912.5" cy="133.1" r="4.15"/><circle cx="940.0" cy="133.1" r="3.60"/><circle cx="967.4" cy="133.1" r="2.95"/><circle cx="994.9" cy="133.1" r="2.35"/><circle cx="1022.4" cy="133.1" r="2.10"/><circle cx="1049.8" cy="133.1" r="1.80"/><circle cx="1077.3" cy="133.1" r="1.60"/><circle cx="1104.8" cy="133.1" r="1.40"/><circle cx="1132.3" cy="133.1" r="1.12"/><circle cx="1159.8" cy="133.1" r="0.85"/><circle cx="1187.2" cy="133.1" r="0.42"/><circle cx="5.8" cy="160.5" r="6.00"/><circle cx="33.3" cy="160.5" r="6.00"/><circle cx="60.8" cy="160.5" r="6.00"/><circle cx="88.2" cy="160.5" r="6.00"/><circle cx="115.7" cy="160.5" r="6.00"/><circle cx="143.2" cy="160.5" r="6.00"/><circle cx="170.7" cy="160.5" r="6.00"/><circle cx="198.1" cy="160.5" r="6.00"/><circle cx="225.6" cy="160.5" r="6.00"/><circle cx="253.1" cy="160.5" r="6.00"/><circle cx="280.6" cy="160.5" r="6.00"/><circle cx="308.0" cy="160.5" r="6.00"/><circle cx="335.5" cy="160.5" r="6.00"/><circle cx="363.0" cy="160.5" r="6.00"/><circle cx="390.5" cy="160.5" r="6.00"/><circle cx="417.9" cy="160.5" r="6.00"/><circle cx="445.4" cy="160.5" r="6.35"/><circle cx="472.9" cy="160.5" r="4.90"/><circle cx="500.4" cy="160.5" r="4.75"/><circle cx="527.8" cy="160.5" r="5.50"/><circle cx="555.3" cy="160.5" r="6.35"/><circle cx="582.8" cy="160.5" r="7.10"/><circle cx="610.2" cy="160.5" r="7.10"/><circle cx="637.7" cy="160.5" r="7.10"/><circle cx="665.2" cy="160.5" r="7.10"/><circle cx="692.7" cy="160.5" r="7.10"/><circle cx="720.1" cy="160.5" r="7.10"/><circle cx="747.6" cy="160.5" r="7.10"/><circle cx="775.1" cy="160.5" r="6.05"/><circle cx="802.6" cy="160.5" r="5.80"/><circle cx="830.0" cy="160.5" r="6.25"/><circle cx="857.5" cy="160.5" r="5.50"/><circle cx="885.0" cy="160.5" r="4.75"/><circle cx="912.5" cy="160.5" r="4.15"/><circle cx="940.0" cy="160.5" r="3.60"/><circle cx="967.4" cy="160.5" r="2.95"/><circle cx="994.9" cy="160.5" r="2.35"/><circle cx="1022.4" cy="160.5" r="2.10"/><circle cx="1049.8" cy="160.5" r="1.80"/><circle cx="1077.3" cy="160.5" r="1.60"/><circle cx="1104.8" cy="160.5" r="1.40"/><circle cx="1132.3" cy="160.5" r="1.12"/><circle cx="1159.8" cy="160.5" r="0.85"/><circle cx="1187.2" cy="160.5" r="0.42"/><circle cx="5.8" cy="188.0" r="6.00"/><circle cx="33.3" cy="188.0" r="6.00"/><circle cx="60.8" cy="188.0" r="6.00"/><circle cx="88.2" cy="188.0" r="6.00"/><circle cx="115.7" cy="188.0" r="6.00"/><circle cx="143.2" cy="188.0" r="6.00"/><circle cx="170.7" cy="188.0" r="6.00"/><circle cx="198.1" cy="188.0" r="6.00"/><circle cx="225.6" cy="188.0" r="6.00"/><circle cx="253.1" cy="188.0" r="6.00"/><circle cx="280.6" cy="188.0" r="6.00"/><circle cx="308.0" cy="188.0" r="6.00"/><circle cx="335.5" cy="188.0" r="6.00"/><circle cx="363.0" cy="188.0" r="6.00"/><circle cx="390.5" cy="188.0" r="6.00"/><circle cx="417.9" cy="188.0" r="6.00"/><circle cx="445.4" cy="188.0" r="6.35"/><circle cx="472.9" cy="188.0" r="4.90"/><circle cx="500.4" cy="188.0" r="4.75"/><circle cx="527.8" cy="188.0" r="5.50"/><circle cx="555.3" cy="188.0" r="6.35"/><circle cx="582.8" cy="188.0" r="7.10"/><circle cx="610.2" cy="188.0" r="7.10"/><circle cx="637.7" cy="188.0" r="7.10"/><circle cx="665.2" cy="188.0" r="7.10"/><circle cx="692.7" cy="188.0" r="7.10"/><circle cx="720.1" cy="188.0" r="7.10"/><circle cx="747.6" cy="188.0" r="7.10"/><circle cx="775.1" cy="188.0" r="6.05"/><circle cx="802.6" cy="188.0" r="5.80"/><circle cx="830.0" cy="188.0" r="6.25"/><circle cx="857.5" cy="188.0" r="5.50"/><circle cx="885.0" cy="188.0" r="4.75"/><circle cx="912.5" cy="188.0" r="4.15"/><circle cx="940.0" cy="188.0" r="3.60"/><circle cx="967.4" cy="188.0" r="2.95"/><circle cx="994.9" cy="188.0" r="2.35"/><circle cx="1022.4" cy="188.0" r="2.10"/><circle cx="1049.8" cy="188.0" r="1.80"/><circle cx="1077.3" cy="188.0" r="1.60"/><circle cx="1104.8" cy="188.0" r="1.40"/><circle cx="1132.3" cy="188.0" r="1.12"/><circle cx="1159.8" cy="188.0" r="0.85"/><circle cx="1187.2" cy="188.0" r="0.42"/><circle cx="5.8" cy="215.4" r="6.00"/><circle cx="33.3" cy="215.4" r="6.00"/><circle cx="60.8" cy="215.4" r="6.00"/><circle cx="88.2" cy="215.4" r="6.00"/><circle cx="115.7" cy="215.4" r="6.00"/><circle cx="143.2" cy="215.4" r="6.00"/><circle cx="170.7" cy="215.4" r="6.00"/><circle cx="198.1" cy="215.4" r="6.00"/><circle cx="225.6" cy="215.4" r="6.00"/><circle cx="253.1" cy="215.4" r="6.00"/><circle cx="280.6" cy="215.4" r="6.00"/><circle cx="308.0" cy="215.4" r="6.00"/><circle cx="335.5" cy="215.4" r="6.00"/><circle cx="363.0" cy="215.4" r="6.00"/><circle cx="390.5" cy="215.4" r="6.00"/><circle cx="417.9" cy="215.4" r="6.00"/><circle cx="445.4" cy="215.4" r="6.35"/><circle cx="472.9" cy="215.4" r="4.90"/><circle cx="500.4" cy="215.4" r="4.75"/><circle cx="527.8" cy="215.4" r="5.50"/><circle cx="555.3" cy="215.4" r="6.35"/><circle cx="582.8" cy="215.4" r="7.10"/><circle cx="610.2" cy="215.4" r="7.10"/><circle cx="637.7" cy="215.4" r="7.10"/><circle cx="665.2" cy="215.4" r="7.10"/><circle cx="692.7" cy="215.4" r="7.10"/><circle cx="720.1" cy="215.4" r="7.10"/><circle cx="747.6" cy="215.4" r="7.10"/><circle cx="775.1" cy="215.4" r="6.05"/><circle cx="802.6" cy="215.4" r="5.80"/><circle cx="830.0" cy="215.4" r="6.25"/><circle cx="857.5" cy="215.4" r="5.50"/><circle cx="885.0" cy="215.4" r="4.75"/><circle cx="912.5" cy="215.4" r="4.15"/><circle cx="940.0" cy="215.4" r="3.60"/><circle cx="967.4" cy="215.4" r="2.95"/><circle cx="994.9" cy="215.4" r="2.35"/><circle cx="1022.4" cy="215.4" r="2.10"/><circle cx="1049.8" cy="215.4" r="1.80"/><circle cx="1077.3" cy="215.4" r="1.60"/><circle cx="1104.8" cy="215.4" r="1.40"/><circle cx="1132.3" cy="215.4" r="1.12"/><circle cx="1159.8" cy="215.4" r="0.85"/><circle cx="1187.2" cy="215.4" r="0.42"/><circle cx="5.8" cy="242.9" r="6.00"/><circle cx="33.3" cy="242.9" r="6.00"/><circle cx="60.8" cy="242.9" r="6.00"/><circle cx="88.2" cy="242.9" r="6.00"/><circle cx="115.7" cy="242.9" r="6.00"/><circle cx="143.2" cy="242.9" r="6.00"/><circle cx="170.7" cy="242.9" r="6.00"/><circle cx="198.1" cy="242.9" r="6.00"/><circle cx="225.6" cy="242.9" r="6.00"/><circle cx="253.1" cy="242.9" r="6.00"/><circle cx="280.6" cy="242.9" r="6.00"/><circle cx="308.0" cy="242.9" r="6.00"/><circle cx="335.5" cy="242.9" r="6.00"/><circle cx="363.0" cy="242.9" r="6.00"/><circle cx="390.5" cy="242.9" r="6.00"/><circle cx="417.9" cy="242.9" r="6.00"/><circle cx="445.4" cy="242.9" r="6.35"/><circle cx="472.9" cy="242.9" r="4.90"/><circle cx="500.4" cy="242.9" r="4.75"/><circle cx="527.8" cy="242.9" r="5.50"/><circle cx="555.3" cy="242.9" r="6.35"/><circle cx="582.8" cy="242.9" r="7.10"/><circle cx="610.2" cy="242.9" r="7.10"/><circle cx="637.7" cy="242.9" r="7.10"/><circle cx="665.2" cy="242.9" r="7.10"/><circle cx="692.7" cy="242.9" r="7.10"/><circle cx="720.1" cy="242.9" r="7.10"/><circle cx="747.6" cy="242.9" r="7.10"/><circle cx="775.1" cy="242.9" r="6.05"/><circle cx="802.6" cy="242.9" r="5.80"/><circle cx="830.0" cy="242.9" r="6.25"/><circle cx="857.5" cy="242.9" r="5.50"/><circle cx="885.0" cy="242.9" r="4.75"/><circle cx="912.5" cy="242.9" r="4.15"/><circle cx="940.0" cy="242.9" r="3.60"/><circle cx="967.4" cy="242.9" r="2.95"/><circle cx="994.9" cy="242.9" r="2.35"/><circle cx="1022.4" cy="242.9" r="2.10"/><circle cx="1049.8" cy="242.9" r="1.80"/><circle cx="1077.3" cy="242.9" r="1.60"/><circle cx="1104.8" cy="242.9" r="1.40"/><circle cx="1132.3" cy="242.9" r="1.12"/><circle cx="1159.8" cy="242.9" r="0.85"/><circle cx="1187.2" cy="242.9" r="0.42"/><circle cx="5.8" cy="270.3" r="6.00"/><circle cx="33.3" cy="270.3" r="6.00"/><circle cx="60.8" cy="270.3" r="6.00"/><circle cx="88.2" cy="270.3" r="6.00"/><circle cx="115.7" cy="270.3" r="6.00"/><circle cx="143.2" cy="270.3" r="6.00"/><circle cx="170.7" cy="270.3" r="6.00"/><circle cx="198.1" cy="270.3" r="6.00"/><circle cx="225.6" cy="270.3" r="6.00"/><circle cx="253.1" cy="270.3" r="6.00"/><circle cx="280.6" cy="270.3" r="6.00"/><circle cx="308.0" cy="270.3" r="6.00"/><circle cx="335.5" cy="270.3" r="6.00"/><circle cx="363.0" cy="270.3" r="6.00"/><circle cx="390.5" cy="270.3" r="6.00"/><circle cx="417.9" cy="270.3" r="6.00"/><circle cx="445.4" cy="270.3" r="5.79"/><circle cx="472.9" cy="270.3" r="5.59"/><circle cx="500.4" cy="270.3" r="5.38"/><circle cx="527.8" cy="270.3" r="5.17"/><circle cx="555.3" cy="270.3" r="4.97"/><circle cx="582.8" cy="270.3" r="4.76"/><circle cx="610.2" cy="270.3" r="4.55"/><circle cx="637.7" cy="270.3" r="4.34"/><circle cx="665.2" cy="270.3" r="4.14"/><circle cx="692.7" cy="270.3" r="3.93"/><circle cx="720.1" cy="270.3" r="3.72"/><circle cx="747.6" cy="270.3" r="3.52"/><circle cx="775.1" cy="270.3" r="3.31"/><circle cx="802.6" cy="270.3" r="3.10"/><circle cx="830.0" cy="270.3" r="2.90"/><circle cx="857.5" cy="270.3" r="2.69"/><circle cx="885.0" cy="270.3" r="2.48"/><circle cx="912.5" cy="270.3" r="2.28"/><circle cx="940.0" cy="270.3" r="2.07"/><circle cx="967.4" cy="270.3" r="1.86"/><circle cx="994.9" cy="270.3" r="1.66"/><circle cx="1022.4" cy="270.3" r="1.45"/><circle cx="1049.8" cy="270.3" r="1.24"/><circle cx="1077.3" cy="270.3" r="1.03"/><circle cx="1104.8" cy="270.3" r="0.83"/><circle cx="1132.3" cy="270.3" r="0.62"/><circle cx="1159.8" cy="270.3" r="0.41"/><circle cx="5.8" cy="297.8" r="6.00"/><circle cx="33.3" cy="297.8" r="6.00"/><circle cx="60.8" cy="297.8" r="6.00"/><circle cx="88.2" cy="297.8" r="6.00"/><circle cx="115.7" cy="297.8" r="6.00"/><circle cx="143.2" cy="297.8" r="5.00"/><circle cx="170.7" cy="297.8" r="5.00"/><circle cx="198.1" cy="297.8" r="5.00"/><circle cx="225.6" cy="297.8" r="5.00"/><circle cx="253.1" cy="297.8" r="5.00"/><circle cx="280.6" cy="297.8" r="5.00"/><circle cx="308.0" cy="297.8" r="5.00"/><circle cx="335.5" cy="297.8" r="6.00"/><circle cx="363.0" cy="297.8" r="6.00"/><circle cx="390.5" cy="297.8" r="6.00"/><circle cx="417.9" cy="297.8" r="6.00"/><circle cx="445.4" cy="297.8" r="5.79"/><circle cx="472.9" cy="297.8" r="5.59"/><circle cx="500.4" cy="297.8" r="5.38"/><circle cx="527.8" cy="297.8" r="5.17"/><circle cx="555.3" cy="297.8" r="4.97"/><circle cx="582.8" cy="297.8" r="4.76"/><circle cx="610.2" cy="297.8" r="4.55"/><circle cx="637.7" cy="297.8" r="4.34"/><circle cx="665.2" cy="297.8" r="4.14"/><circle cx="692.7" cy="297.8" r="3.93"/><circle cx="720.1" cy="297.8" r="3.72"/><circle cx="747.6" cy="297.8" r="3.52"/><circle cx="775.1" cy="297.8" r="3.31"/><circle cx="802.6" cy="297.8" r="3.10"/><circle cx="830.0" cy="297.8" r="2.90"/><circle cx="857.5" cy="297.8" r="2.69"/><circle cx="885.0" cy="297.8" r="2.48"/><circle cx="912.5" cy="297.8" r="2.28"/><circle cx="940.0" cy="297.8" r="2.07"/><circle cx="967.4" cy="297.8" r="1.86"/><circle cx="994.9" cy="297.8" r="1.66"/><circle cx="1022.4" cy="297.8" r="1.45"/><circle cx="1049.8" cy="297.8" r="1.24"/><circle cx="1077.3" cy="297.8" r="1.03"/><circle cx="1104.8" cy="297.8" r="0.83"/><circle cx="1132.3" cy="297.8" r="0.62"/><circle cx="1159.8" cy="297.8" r="0.41"/><circle cx="5.8" cy="325.2" r="5.75"/><circle cx="33.3" cy="325.2" r="5.75"/><circle cx="60.8" cy="325.2" r="5.75"/><circle cx="88.2" cy="325.2" r="5.75"/><circle cx="115.7" cy="325.2" r="5.25"/><circle cx="143.2" cy="325.2" r="4.50"/><circle cx="170.7" cy="325.2" r="3.50"/><circle cx="198.1" cy="325.2" r="3.50"/><circle cx="225.6" cy="325.2" r="3.50"/><circle cx="253.1" cy="325.2" r="3.50"/><circle cx="280.6" cy="325.2" r="3.50"/><circle cx="308.0" cy="325.2" r="3.50"/><circle cx="335.5" cy="325.2" r="5.75"/><circle cx="363.0" cy="325.2" r="6.05"/><circle cx="390.5" cy="325.2" r="6.35"/><circle cx="417.9" cy="325.2" r="6.65"/><circle cx="445.4" cy="325.2" r="5.95"/><circle cx="472.9" cy="325.2" r="5.60"/><circle cx="500.4" cy="325.2" r="6.65"/><circle cx="527.8" cy="325.2" r="7.00"/><circle cx="555.3" cy="325.2" r="7.12"/><circle cx="582.8" cy="325.2" r="7.23"/><circle cx="610.2" cy="325.2" r="7.35"/><circle cx="637.7" cy="325.2" r="7.35"/><circle cx="665.2" cy="325.2" r="7.35"/><circle cx="692.7" cy="325.2" r="6.65"/><circle cx="720.1" cy="325.2" r="5.95"/><circle cx="747.6" cy="325.2" r="4.60"/><circle cx="775.1" cy="325.2" r="4.20"/><circle cx="802.6" cy="325.2" r="3.50"/><circle cx="830.0" cy="325.2" r="2.80"/><circle cx="857.5" cy="325.2" r="2.45"/><circle cx="885.0" cy="325.2" r="2.10"/><circle cx="912.5" cy="325.2" r="1.75"/><circle cx="940.0" cy="325.2" r="1.40"/><circle cx="967.4" cy="325.2" r="1.37"/><circle cx="994.9" cy="325.2" r="1.33"/><circle cx="1022.4" cy="325.2" r="1.30"/><circle cx="1049.8" cy="325.2" r="1.27"/><circle cx="1077.3" cy="325.2" r="1.23"/><circle cx="1104.8" cy="325.2" r="1.20"/><circle cx="1132.3" cy="325.2" r="0.90"/><circle cx="1159.8" cy="325.2" r="0.60"/><circle cx="1187.2" cy="325.2" r="0.30"/><circle cx="5.8" cy="352.7" r="5.50"/><circle cx="33.3" cy="352.7" r="5.50"/><circle cx="60.8" cy="352.7" r="5.50"/><circle cx="88.2" cy="352.7" r="5.50"/><circle cx="115.7" cy="352.7" r="4.75"/><circle cx="143.2" cy="352.7" r="3.75"/><circle cx="170.7" cy="352.7" r="3.15"/><circle cx="198.1" cy="352.7" r="3.15"/><circle cx="225.6" cy="352.7" r="3.15"/><circle cx="253.1" cy="352.7" r="3.15"/><circle cx="280.6" cy="352.7" r="3.15"/><circle cx="308.0" cy="352.7" r="3.15"/><circle cx="335.5" cy="352.7" r="5.50"/><circle cx="363.0" cy="352.7" r="5.88"/><circle cx="390.5" cy="352.7" r="6.27"/><circle cx="417.9" cy="352.7" r="6.65"/><circle cx="445.4" cy="352.7" r="5.95"/><circle cx="472.9" cy="352.7" r="5.60"/><circle cx="500.4" cy="352.7" r="6.65"/><circle cx="527.8" cy="352.7" r="7.00"/><circle cx="555.3" cy="352.7" r="7.04"/><circle cx="582.8" cy="352.7" r="7.08"/><circle cx="610.2" cy="352.7" r="7.12"/><circle cx="637.7" cy="352.7" r="7.16"/><circle cx="665.2" cy="352.7" r="7.20"/><circle cx="692.7" cy="352.7" r="6.65"/><circle cx="720.1" cy="352.7" r="5.60"/><circle cx="747.6" cy="352.7" r="4.20"/><circle cx="775.1" cy="352.7" r="3.85"/><circle cx="802.6" cy="352.7" r="3.50"/><circle cx="830.0" cy="352.7" r="2.80"/><circle cx="857.5" cy="352.7" r="2.45"/><circle cx="885.0" cy="352.7" r="2.10"/><circle cx="912.5" cy="352.7" r="1.75"/><circle cx="940.0" cy="352.7" r="1.40"/><circle cx="967.4" cy="352.7" r="1.37"/><circle cx="994.9" cy="352.7" r="1.33"/><circle cx="1022.4" cy="352.7" r="1.30"/><circle cx="1049.8" cy="352.7" r="1.27"/><circle cx="1077.3" cy="352.7" r="1.23"/><circle cx="1104.8" cy="352.7" r="1.20"/><circle cx="1132.3" cy="352.7" r="0.90"/><circle cx="1159.8" cy="352.7" r="0.60"/><circle cx="1187.2" cy="352.7" r="0.30"/><circle cx="5.8" cy="380.1" r="5.55"/><circle cx="33.3" cy="380.1" r="5.55"/><circle cx="60.8" cy="380.1" r="4.80"/><circle cx="88.2" cy="380.1" r="4.30"/><circle cx="115.7" cy="380.1" r="3.65"/><circle cx="143.2" cy="380.1" r="3.30"/><circle cx="170.7" cy="380.1" r="2.90"/><circle cx="198.1" cy="380.1" r="3.15"/><circle cx="225.6" cy="380.1" r="3.11"/><circle cx="253.1" cy="380.1" r="3.08"/><circle cx="280.6" cy="380.1" r="3.04"/><circle cx="308.0" cy="380.1" r="3.00"/><circle cx="335.5" cy="380.1" r="3.75"/><circle cx="363.0" cy="380.1" r="4.75"/><circle cx="390.5" cy="380.1" r="5.50"/><circle cx="417.9" cy="380.1" r="5.50"/><circle cx="445.4" cy="380.1" r="4.80"/><circle cx="472.9" cy="380.1" r="4.95"/><circle cx="500.4" cy="380.1" r="5.10"/><circle cx="527.8" cy="380.1" r="5.25"/><circle cx="555.3" cy="380.1" r="5.40"/><circle cx="582.8" cy="380.1" r="5.55"/><circle cx="610.2" cy="380.1" r="5.70"/><circle cx="637.7" cy="380.1" r="5.85"/><circle cx="665.2" cy="380.1" r="6.00"/><circle cx="692.7" cy="380.1" r="5.42"/><circle cx="720.1" cy="380.1" r="4.83"/><circle cx="747.6" cy="380.1" r="4.25"/><circle cx="775.1" cy="380.1" r="3.67"/><circle cx="802.6" cy="380.1" r="3.08"/><circle cx="830.0" cy="380.1" r="2.50"/><circle cx="857.5" cy="380.1" r="2.29"/><circle cx="885.0" cy="380.1" r="2.08"/><circle cx="912.5" cy="380.1" r="1.88"/><circle cx="940.0" cy="380.1" r="1.67"/><circle cx="967.4" cy="380.1" r="1.46"/><circle cx="994.9" cy="380.1" r="1.25"/><circle cx="1022.4" cy="380.1" r="1.09"/><circle cx="1049.8" cy="380.1" r="0.94"/><circle cx="1077.3" cy="380.1" r="0.78"/><circle cx="1104.8" cy="380.1" r="0.62"/><circle cx="1132.3" cy="380.1" r="0.47"/><circle cx="1159.8" cy="380.1" r="0.31"/><circle cx="1736.7" cy="380.1" r="0.38"/><circle cx="1764.2" cy="380.1" r="0.50"/><circle cx="5.8" cy="407.5" r="4.95"/><circle cx="33.3" cy="407.5" r="4.95"/><circle cx="60.8" cy="407.5" r="3.90"/><circle cx="88.2" cy="407.5" r="3.55"/><circle cx="115.7" cy="407.5" r="3.05"/><circle cx="143.2" cy="407.5" r="2.65"/><circle cx="170.7" cy="407.5" r="2.65"/><circle cx="198.1" cy="407.5" r="2.90"/><circle cx="225.6" cy="407.5" r="3.02"/><circle cx="253.1" cy="407.5" r="3.13"/><circle cx="280.6" cy="407.5" r="3.25"/><circle cx="308.0" cy="407.5" r="3.62"/><circle cx="335.5" cy="407.5" r="4.00"/><circle cx="363.0" cy="407.5" r="4.75"/><circle cx="390.5" cy="407.5" r="5.50"/><circle cx="417.9" cy="407.5" r="5.50"/><circle cx="445.4" cy="407.5" r="4.75"/><circle cx="472.9" cy="407.5" r="4.91"/><circle cx="500.4" cy="407.5" r="5.06"/><circle cx="527.8" cy="407.5" r="5.22"/><circle cx="555.3" cy="407.5" r="5.38"/><circle cx="582.8" cy="407.5" r="5.53"/><circle cx="610.2" cy="407.5" r="5.69"/><circle cx="637.7" cy="407.5" r="5.84"/><circle cx="665.2" cy="407.5" r="6.00"/><circle cx="692.7" cy="407.5" r="5.46"/><circle cx="720.1" cy="407.5" r="4.92"/><circle cx="747.6" cy="407.5" r="4.38"/><circle cx="775.1" cy="407.5" r="3.83"/><circle cx="802.6" cy="407.5" r="3.29"/><circle cx="830.0" cy="407.5" r="2.75"/><circle cx="857.5" cy="407.5" r="2.49"/><circle cx="885.0" cy="407.5" r="2.23"/><circle cx="912.5" cy="407.5" r="1.98"/><circle cx="940.0" cy="407.5" r="1.72"/><circle cx="967.4" cy="407.5" r="1.46"/><circle cx="994.9" cy="407.5" r="1.20"/><circle cx="1022.4" cy="407.5" r="1.05"/><circle cx="1049.8" cy="407.5" r="0.90"/><circle cx="1077.3" cy="407.5" r="0.75"/><circle cx="1104.8" cy="407.5" r="0.60"/><circle cx="1132.3" cy="407.5" r="0.45"/><circle cx="1159.8" cy="407.5" r="0.30"/><circle cx="1489.5" cy="407.5" r="0.31"/><circle cx="1516.9" cy="407.5" r="0.34"/><circle cx="1544.4" cy="407.5" r="0.38"/><circle cx="1571.9" cy="407.5" r="0.41"/><circle cx="1599.4" cy="407.5" r="0.44"/><circle cx="1626.8" cy="407.5" r="0.47"/><circle cx="1654.3" cy="407.5" r="0.50"/><circle cx="1681.8" cy="407.5" r="0.62"/><circle cx="1709.2" cy="407.5" r="0.75"/><circle cx="1736.7" cy="407.5" r="0.88"/><circle cx="1764.2" cy="407.5" r="1.00"/><circle cx="5.8" cy="435.0" r="4.20"/><circle cx="33.3" cy="435.0" r="4.35"/><circle cx="60.8" cy="435.0" r="3.60"/><circle cx="88.2" cy="435.0" r="3.60"/><circle cx="115.7" cy="435.0" r="3.05"/><circle cx="143.2" cy="435.0" r="2.65"/><circle cx="170.7" cy="435.0" r="2.00"/><circle cx="198.1" cy="435.0" r="2.30"/><circle cx="225.6" cy="435.0" r="4.00"/><circle cx="253.1" cy="435.0" r="4.60"/><circle cx="280.6" cy="435.0" r="4.70"/><circle cx="308.0" cy="435.0" r="4.80"/><circle cx="335.5" cy="435.0" r="4.90"/><circle cx="363.0" cy="435.0" r="5.15"/><circle cx="390.5" cy="435.0" r="6.30"/><circle cx="417.9" cy="435.0" r="5.50"/><circle cx="445.4" cy="435.0" r="4.70"/><circle cx="472.9" cy="435.0" r="4.86"/><circle cx="500.4" cy="435.0" r="5.03"/><circle cx="527.8" cy="435.0" r="5.19"/><circle cx="555.3" cy="435.0" r="5.35"/><circle cx="582.8" cy="435.0" r="5.51"/><circle cx="610.2" cy="435.0" r="5.67"/><circle cx="637.7" cy="435.0" r="5.84"/><circle cx="665.2" cy="435.0" r="6.00"/><circle cx="692.7" cy="435.0" r="5.50"/><circle cx="720.1" cy="435.0" r="5.00"/><circle cx="747.6" cy="435.0" r="4.50"/><circle cx="775.1" cy="435.0" r="4.00"/><circle cx="802.6" cy="435.0" r="3.50"/><circle cx="830.0" cy="435.0" r="3.00"/><circle cx="857.5" cy="435.0" r="2.69"/><circle cx="885.0" cy="435.0" r="2.38"/><circle cx="912.5" cy="435.0" r="2.08"/><circle cx="940.0" cy="435.0" r="1.77"/><circle cx="967.4" cy="435.0" r="1.46"/><circle cx="994.9" cy="435.0" r="1.15"/><circle cx="1022.4" cy="435.0" r="1.01"/><circle cx="1049.8" cy="435.0" r="0.86"/><circle cx="1077.3" cy="435.0" r="0.72"/><circle cx="1104.8" cy="435.0" r="0.57"/><circle cx="1132.3" cy="435.0" r="0.43"/><circle cx="1407.0" cy="435.0" r="0.33"/><circle cx="1434.5" cy="435.0" r="0.38"/><circle cx="1462.0" cy="435.0" r="0.42"/><circle cx="1489.5" cy="435.0" r="0.47"/><circle cx="1516.9" cy="435.0" r="0.52"/><circle cx="1544.4" cy="435.0" r="0.56"/><circle cx="1571.9" cy="435.0" r="0.61"/><circle cx="1599.4" cy="435.0" r="0.66"/><circle cx="1626.8" cy="435.0" r="0.70"/><circle cx="1654.3" cy="435.0" r="0.75"/><circle cx="1681.8" cy="435.0" r="0.81"/><circle cx="1709.2" cy="435.0" r="0.88"/><circle cx="1736.7" cy="435.0" r="0.94"/><circle cx="1764.2" cy="435.0" r="1.00"/><circle cx="5.8" cy="462.4" r="3.50"/><circle cx="33.3" cy="462.4" r="3.50"/><circle cx="60.8" cy="462.4" r="2.95"/><circle cx="88.2" cy="462.4" r="2.65"/><circle cx="115.7" cy="462.4" r="2.45"/><circle cx="143.2" cy="462.4" r="1.90"/><circle cx="170.7" cy="462.4" r="2.00"/><circle cx="198.1" cy="462.4" r="2.30"/><circle cx="225.6" cy="462.4" r="3.45"/><circle cx="253.1" cy="462.4" r="3.74"/><circle cx="280.6" cy="462.4" r="4.03"/><circle cx="308.0" cy="462.4" r="4.31"/><circle cx="335.5" cy="462.4" r="4.60"/><circle cx="363.0" cy="462.4" r="5.15"/><circle cx="390.5" cy="462.4" r="5.45"/><circle cx="417.9" cy="462.4" r="5.50"/><circle cx="445.4" cy="462.4" r="5.75"/><circle cx="472.9" cy="462.4" r="5.75"/><circle cx="500.4" cy="462.4" r="5.95"/><circle cx="527.8" cy="462.4" r="5.60"/><circle cx="555.3" cy="462.4" r="6.65"/><circle cx="582.8" cy="462.4" r="7.00"/><circle cx="610.2" cy="462.4" r="7.35"/><circle cx="637.7" cy="462.4" r="7.35"/><circle cx="665.2" cy="462.4" r="7.35"/><circle cx="692.7" cy="462.4" r="6.65"/><circle cx="720.1" cy="462.4" r="5.95"/><circle cx="747.6" cy="462.4" r="5.60"/><circle cx="775.1" cy="462.4" r="5.25"/><circle cx="802.6" cy="462.4" r="4.60"/><circle cx="830.0" cy="462.4" r="4.20"/><circle cx="857.5" cy="462.4" r="3.85"/><circle cx="885.0" cy="462.4" r="3.50"/><circle cx="912.5" cy="462.4" r="2.80"/><circle cx="940.0" cy="462.4" r="2.45"/><circle cx="967.4" cy="462.4" r="2.10"/><circle cx="994.9" cy="462.4" r="1.75"/><circle cx="1022.4" cy="462.4" r="1.65"/><circle cx="1049.8" cy="462.4" r="1.55"/><circle cx="1077.3" cy="462.4" r="1.45"/><circle cx="1104.8" cy="462.4" r="1.35"/><circle cx="1132.3" cy="462.4" r="1.01"/><circle cx="1159.8" cy="462.4" r="0.68"/><circle cx="1187.2" cy="462.4" r="0.34"/><circle cx="1352.1" cy="462.4" r="0.31"/><circle cx="1379.5" cy="462.4" r="0.38"/><circle cx="1407.0" cy="462.4" r="0.44"/><circle cx="1434.5" cy="462.4" r="0.50"/><circle cx="1462.0" cy="462.4" r="0.56"/><circle cx="1489.5" cy="462.4" r="0.62"/><circle cx="1516.9" cy="462.4" r="0.69"/><circle cx="1544.4" cy="462.4" r="0.75"/><circle cx="1571.9" cy="462.4" r="0.81"/><circle cx="1599.4" cy="462.4" r="0.88"/><circle cx="1626.8" cy="462.4" r="0.94"/><circle cx="1654.3" cy="462.4" r="1.00"/><circle cx="1681.8" cy="462.4" r="1.00"/><circle cx="1709.2" cy="462.4" r="1.00"/><circle cx="1736.7" cy="462.4" r="1.00"/><circle cx="1764.2" cy="462.4" r="1.00"/><circle cx="5.8" cy="489.9" r="3.15"/><circle cx="33.3" cy="489.9" r="3.03"/><circle cx="60.8" cy="489.9" r="2.91"/><circle cx="88.2" cy="489.9" r="2.79"/><circle cx="115.7" cy="489.9" r="2.66"/><circle cx="143.2" cy="489.9" r="2.54"/><circle cx="170.7" cy="489.9" r="2.42"/><circle cx="198.1" cy="489.9" r="2.30"/><circle cx="225.6" cy="489.9" r="3.15"/><circle cx="253.1" cy="489.9" r="3.44"/><circle cx="280.6" cy="489.9" r="3.72"/><circle cx="308.0" cy="489.9" r="4.01"/><circle cx="335.5" cy="489.9" r="4.30"/><circle cx="363.0" cy="489.9" r="4.72"/><circle cx="390.5" cy="489.9" r="5.15"/><circle cx="417.9" cy="489.9" r="5.50"/><circle cx="445.4" cy="489.9" r="5.75"/><circle cx="472.9" cy="489.9" r="5.75"/><circle cx="500.4" cy="489.9" r="5.60"/><circle cx="527.8" cy="489.9" r="5.60"/><circle cx="555.3" cy="489.9" r="6.65"/><circle cx="582.8" cy="489.9" r="7.00"/><circle cx="610.2" cy="489.9" r="7.35"/><circle cx="637.7" cy="489.9" r="7.35"/><circle cx="665.2" cy="489.9" r="7.35"/><circle cx="692.7" cy="489.9" r="6.65"/><circle cx="720.1" cy="489.9" r="6.30"/><circle cx="747.6" cy="489.9" r="5.95"/><circle cx="775.1" cy="489.9" r="5.75"/><circle cx="802.6" cy="489.9" r="5.60"/><circle cx="830.0" cy="489.9" r="4.60"/><circle cx="857.5" cy="489.9" r="4.60"/><circle cx="885.0" cy="489.9" r="4.60"/><circle cx="912.5" cy="489.9" r="4.20"/><circle cx="940.0" cy="489.9" r="3.50"/><circle cx="967.4" cy="489.9" r="2.45"/><circle cx="994.9" cy="489.9" r="2.10"/><circle cx="1022.4" cy="489.9" r="1.99"/><circle cx="1049.8" cy="489.9" r="1.88"/><circle cx="1077.3" cy="489.9" r="1.76"/><circle cx="1104.8" cy="489.9" r="1.65"/><circle cx="1132.3" cy="489.9" r="1.36"/><circle cx="1159.8" cy="489.9" r="1.07"/><circle cx="1187.2" cy="489.9" r="0.79"/><circle cx="1214.7" cy="489.9" r="0.50"/><circle cx="1242.2" cy="489.9" r="0.53"/><circle cx="1269.7" cy="489.9" r="0.56"/><circle cx="1297.1" cy="489.9" r="0.59"/><circle cx="1324.6" cy="489.9" r="0.62"/><circle cx="1352.1" cy="489.9" r="0.66"/><circle cx="1379.5" cy="489.9" r="0.69"/><circle cx="1407.0" cy="489.9" r="0.72"/><circle cx="1434.5" cy="489.9" r="0.75"/><circle cx="1462.0" cy="489.9" r="0.78"/><circle cx="1489.5" cy="489.9" r="0.81"/><circle cx="1516.9" cy="489.9" r="0.84"/><circle cx="1544.4" cy="489.9" r="0.88"/><circle cx="1571.9" cy="489.9" r="0.91"/><circle cx="1599.4" cy="489.9" r="0.94"/><circle cx="1626.8" cy="489.9" r="0.97"/><circle cx="1654.3" cy="489.9" r="1.00"/><circle cx="1681.8" cy="489.9" r="1.00"/><circle cx="1709.2" cy="489.9" r="1.00"/><circle cx="1736.7" cy="489.9" r="1.00"/><circle cx="1764.2" cy="489.9" r="1.00"/><circle cx="5.8" cy="517.3" r="3.17"/><circle cx="33.3" cy="517.3" r="3.10"/><circle cx="60.8" cy="517.3" r="3.02"/><circle cx="88.2" cy="517.3" r="2.94"/><circle cx="115.7" cy="517.3" r="2.87"/><circle cx="143.2" cy="517.3" r="2.79"/><circle cx="170.7" cy="517.3" r="2.71"/><circle cx="198.1" cy="517.3" r="2.72"/><circle cx="225.6" cy="517.3" r="3.22"/><circle cx="253.1" cy="517.3" r="3.44"/><circle cx="280.6" cy="517.3" r="3.66"/><circle cx="308.0" cy="517.3" r="3.88"/><circle cx="335.5" cy="517.3" r="4.10"/><circle cx="363.0" cy="517.3" r="4.39"/><circle cx="390.5" cy="517.3" r="4.68"/><circle cx="417.9" cy="517.3" r="4.50"/><circle cx="445.4" cy="517.3" r="4.65"/><circle cx="472.9" cy="517.3" r="4.67"/><circle cx="500.4" cy="517.3" r="4.62"/><circle cx="527.8" cy="517.3" r="4.65"/><circle cx="555.3" cy="517.3" r="5.20"/><circle cx="582.8" cy="517.3" r="5.40"/><circle cx="610.2" cy="517.3" r="5.60"/><circle cx="637.7" cy="517.3" r="5.62"/><circle cx="665.2" cy="517.3" r="5.65"/><circle cx="692.7" cy="517.3" r="5.33"/><circle cx="720.1" cy="517.3" r="5.06"/><circle cx="747.6" cy="517.3" r="4.79"/><circle cx="775.1" cy="517.3" r="4.60"/><circle cx="802.6" cy="517.3" r="4.44"/><circle cx="830.0" cy="517.3" r="3.85"/><circle cx="857.5" cy="517.3" r="3.75"/><circle cx="885.0" cy="517.3" r="3.66"/><circle cx="912.5" cy="517.3" r="3.37"/><circle cx="940.0" cy="517.3" r="2.93"/><circle cx="967.4" cy="517.3" r="2.32"/><circle cx="994.9" cy="517.3" r="2.05"/><circle cx="1022.4" cy="517.3" r="1.93"/><circle cx="1049.8" cy="517.3" r="1.81"/><circle cx="1077.3" cy="517.3" r="1.69"/><circle cx="1104.8" cy="517.3" r="1.57"/><circle cx="1132.3" cy="517.3" r="1.37"/><circle cx="1159.8" cy="517.3" r="1.16"/><circle cx="1187.2" cy="517.3" r="0.96"/><circle cx="1214.7" cy="517.3" r="0.75"/><circle cx="1242.2" cy="517.3" r="0.77"/><circle cx="1269.7" cy="517.3" r="0.78"/><circle cx="1297.1" cy="517.3" r="0.80"/><circle cx="1324.6" cy="517.3" r="0.81"/><circle cx="1352.1" cy="517.3" r="0.83"/><circle cx="1379.5" cy="517.3" r="0.84"/><circle cx="1407.0" cy="517.3" r="0.86"/><circle cx="1434.5" cy="517.3" r="0.88"/><circle cx="1462.0" cy="517.3" r="0.89"/><circle cx="1489.5" cy="517.3" r="0.91"/><circle cx="1516.9" cy="517.3" r="0.92"/><circle cx="1544.4" cy="517.3" r="0.94"/><circle cx="1571.9" cy="517.3" r="0.95"/><circle cx="1599.4" cy="517.3" r="0.97"/><circle cx="1626.8" cy="517.3" r="0.98"/><circle cx="1654.3" cy="517.3" r="1.00"/><circle cx="1681.8" cy="517.3" r="1.00"/><circle cx="1709.2" cy="517.3" r="1.00"/><circle cx="1736.7" cy="517.3" r="1.00"/><circle cx="1764.2" cy="517.3" r="1.00"/><circle cx="5.8" cy="544.8" r="3.20"/><circle cx="33.3" cy="544.8" r="3.17"/><circle cx="60.8" cy="544.8" r="3.13"/><circle cx="88.2" cy="544.8" r="3.10"/><circle cx="115.7" cy="544.8" r="3.07"/><circle cx="143.2" cy="544.8" r="3.03"/><circle cx="170.7" cy="544.8" r="3.00"/><circle cx="198.1" cy="544.8" r="3.15"/><circle cx="225.6" cy="544.8" r="3.30"/><circle cx="253.1" cy="544.8" r="3.45"/><circle cx="280.6" cy="544.8" r="3.60"/><circle cx="308.0" cy="544.8" r="3.75"/><circle cx="335.5" cy="544.8" r="3.90"/><circle cx="363.0" cy="544.8" r="4.05"/><circle cx="390.5" cy="544.8" r="4.20"/><circle cx="417.9" cy="544.8" r="3.50"/><circle cx="445.4" cy="544.8" r="3.55"/><circle cx="472.9" cy="544.8" r="3.60"/><circle cx="500.4" cy="544.8" r="3.65"/><circle cx="527.8" cy="544.8" r="3.70"/><circle cx="555.3" cy="544.8" r="3.75"/><circle cx="582.8" cy="544.8" r="3.80"/><circle cx="610.2" cy="544.8" r="3.85"/><circle cx="637.7" cy="544.8" r="3.90"/><circle cx="665.2" cy="544.8" r="3.95"/><circle cx="692.7" cy="544.8" r="4.00"/><circle cx="720.1" cy="544.8" r="3.82"/><circle cx="747.6" cy="544.8" r="3.64"/><circle cx="775.1" cy="544.8" r="3.45"/><circle cx="802.6" cy="544.8" r="3.27"/><circle cx="830.0" cy="544.8" r="3.09"/><circle cx="857.5" cy="544.8" r="2.91"/><circle cx="885.0" cy="544.8" r="2.73"/><circle cx="912.5" cy="544.8" r="2.55"/><circle cx="940.0" cy="544.8" r="2.36"/><circle cx="967.4" cy="544.8" r="2.18"/><circle cx="994.9" cy="544.8" r="2.00"/><circle cx="1022.4" cy="544.8" r="1.88"/><circle cx="1049.8" cy="544.8" r="1.75"/><circle cx="1077.3" cy="544.8" r="1.62"/><circle cx="1104.8" cy="544.8" r="1.50"/><circle cx="1132.3" cy="544.8" r="1.38"/><circle cx="1159.8" cy="544.8" r="1.25"/><circle cx="1187.2" cy="544.8" r="1.12"/><circle cx="1214.7" cy="544.8" r="1.00"/><circle cx="1242.2" cy="544.8" r="1.00"/><circle cx="1269.7" cy="544.8" r="1.00"/><circle cx="1297.1" cy="544.8" r="1.00"/><circle cx="1324.6" cy="544.8" r="1.00"/><circle cx="1352.1" cy="544.8" r="1.00"/><circle cx="1379.5" cy="544.8" r="1.00"/><circle cx="1407.0" cy="544.8" r="1.00"/><circle cx="1434.5" cy="544.8" r="1.00"/><circle cx="1462.0" cy="544.8" r="1.00"/><circle cx="1489.5" cy="544.8" r="1.00"/><circle cx="1516.9" cy="544.8" r="1.00"/><circle cx="1544.4" cy="544.8" r="1.00"/><circle cx="1571.9" cy="544.8" r="1.00"/><circle cx="1599.4" cy="544.8" r="1.00"/><circle cx="1626.8" cy="544.8" r="1.00"/><circle cx="1654.3" cy="544.8" r="1.00"/><circle cx="1681.8" cy="544.8" r="1.00"/><circle cx="1709.2" cy="544.8" r="1.00"/><circle cx="1736.7" cy="544.8" r="1.00"/><circle cx="1764.2" cy="544.8" r="1.00"/><circle cx="5.8" cy="572.2" r="3.20"/><circle cx="33.3" cy="572.2" r="2.80"/><circle cx="60.8" cy="572.2" r="2.80"/><circle cx="88.2" cy="572.2" r="2.80"/><circle cx="115.7" cy="572.2" r="2.80"/><circle cx="143.2" cy="572.2" r="2.80"/><circle cx="170.7" cy="572.2" r="2.80"/><circle cx="198.1" cy="572.2" r="2.95"/><circle cx="225.6" cy="572.2" r="3.10"/><circle cx="253.1" cy="572.2" r="3.25"/><circle cx="280.6" cy="572.2" r="3.40"/><circle cx="308.0" cy="572.2" r="3.55"/><circle cx="335.5" cy="572.2" r="3.70"/><circle cx="363.0" cy="572.2" r="3.85"/><circle cx="390.5" cy="572.2" r="4.00"/><circle cx="417.9" cy="572.2" r="3.95"/><circle cx="445.4" cy="572.2" r="3.91"/><circle cx="472.9" cy="572.2" r="3.86"/><circle cx="500.4" cy="572.2" r="3.82"/><circle cx="527.8" cy="572.2" r="3.77"/><circle cx="555.3" cy="572.2" r="3.73"/><circle cx="582.8" cy="572.2" r="3.68"/><circle cx="610.2" cy="572.2" r="3.64"/><circle cx="637.7" cy="572.2" r="3.59"/><circle cx="665.2" cy="572.2" r="3.55"/><circle cx="692.7" cy="572.2" r="3.50"/><circle cx="720.1" cy="572.2" r="3.36"/><circle cx="747.6" cy="572.2" r="3.23"/><circle cx="775.1" cy="572.2" r="3.09"/><circle cx="802.6" cy="572.2" r="2.95"/><circle cx="830.0" cy="572.2" r="2.82"/><circle cx="857.5" cy="572.2" r="2.68"/><circle cx="885.0" cy="572.2" r="2.55"/><circle cx="912.5" cy="572.2" r="2.41"/><circle cx="940.0" cy="572.2" r="2.27"/><circle cx="967.4" cy="572.2" r="2.14"/><circle cx="994.9" cy="572.2" r="2.00"/><circle cx="1022.4" cy="572.2" r="1.91"/><circle cx="1049.8" cy="572.2" r="1.81"/><circle cx="1077.3" cy="572.2" r="1.72"/><circle cx="1104.8" cy="572.2" r="1.62"/><circle cx="1132.3" cy="572.2" r="1.53"/><circle cx="1159.8" cy="572.2" r="1.44"/><circle cx="1187.2" cy="572.2" r="1.34"/><circle cx="1214.7" cy="572.2" r="1.25"/><circle cx="1242.2" cy="572.2" r="1.25"/><circle cx="1269.7" cy="572.2" r="1.25"/><circle cx="1297.1" cy="572.2" r="1.25"/><circle cx="1324.6" cy="572.2" r="1.25"/><circle cx="1352.1" cy="572.2" r="1.25"/><circle cx="1379.5" cy="572.2" r="1.25"/><circle cx="1407.0" cy="572.2" r="1.25"/><circle cx="1434.5" cy="572.2" r="1.25"/><circle cx="1462.0" cy="572.2" r="1.25"/><circle cx="1489.5" cy="572.2" r="1.25"/><circle cx="1516.9" cy="572.2" r="1.25"/><circle cx="1544.4" cy="572.2" r="1.25"/><circle cx="1571.9" cy="572.2" r="1.25"/><circle cx="1599.4" cy="572.2" r="1.25"/><circle cx="1626.8" cy="572.2" r="1.25"/><circle cx="1654.3" cy="572.2" r="1.25"/><circle cx="1681.8" cy="572.2" r="1.25"/><circle cx="1709.2" cy="572.2" r="1.25"/><circle cx="1736.7" cy="572.2" r="1.25"/><circle cx="1764.2" cy="572.2" r="1.25"/><circle cx="5.8" cy="599.7" r="4.00"/><circle cx="33.3" cy="599.7" r="3.65"/><circle cx="60.8" cy="599.7" r="3.35"/><circle cx="88.2" cy="599.7" r="3.00"/><circle cx="115.7" cy="599.7" r="2.83"/><circle cx="143.2" cy="599.7" r="2.65"/><circle cx="170.7" cy="599.7" r="2.35"/><circle cx="198.1" cy="599.7" r="2.00"/><circle cx="225.6" cy="599.7" r="2.00"/><circle cx="253.1" cy="599.7" r="2.35"/><circle cx="280.6" cy="599.7" r="2.50"/><circle cx="308.0" cy="599.7" r="2.65"/><circle cx="335.5" cy="599.7" r="2.83"/><circle cx="363.0" cy="599.7" r="3.00"/><circle cx="390.5" cy="599.7" r="3.35"/><circle cx="417.9" cy="599.7" r="3.85"/><circle cx="445.4" cy="599.7" r="3.50"/><circle cx="472.9" cy="599.7" r="3.50"/><circle cx="500.4" cy="599.7" r="3.85"/><circle cx="527.8" cy="599.7" r="4.20"/><circle cx="555.3" cy="599.7" r="4.20"/><circle cx="582.8" cy="599.7" r="4.20"/><circle cx="610.2" cy="599.7" r="4.60"/><circle cx="637.7" cy="599.7" r="4.60"/><circle cx="665.2" cy="599.7" r="4.60"/><circle cx="692.7" cy="599.7" r="4.60"/><circle cx="720.1" cy="599.7" r="4.60"/><circle cx="747.6" cy="599.7" r="4.60"/><circle cx="775.1" cy="599.7" r="4.60"/><circle cx="802.6" cy="599.7" r="4.90"/><circle cx="830.0" cy="599.7" r="4.60"/><circle cx="857.5" cy="599.7" r="4.20"/><circle cx="885.0" cy="599.7" r="3.85"/><circle cx="912.5" cy="599.7" r="5.50"/><circle cx="940.0" cy="599.7" r="5.25"/><circle cx="967.4" cy="599.7" r="2.75"/><circle cx="994.9" cy="599.7" r="2.45"/><circle cx="1022.4" cy="599.7" r="2.33"/><circle cx="1049.8" cy="599.7" r="2.21"/><circle cx="1077.3" cy="599.7" r="2.09"/><circle cx="1104.8" cy="599.7" r="1.98"/><circle cx="1132.3" cy="599.7" r="1.86"/><circle cx="1159.8" cy="599.7" r="1.74"/><circle cx="1187.2" cy="599.7" r="1.62"/><circle cx="1214.7" cy="599.7" r="1.50"/><circle cx="1242.2" cy="599.7" r="1.50"/><circle cx="1269.7" cy="599.7" r="1.50"/><circle cx="1297.1" cy="599.7" r="1.50"/><circle cx="1324.6" cy="599.7" r="1.50"/><circle cx="1352.1" cy="599.7" r="1.50"/><circle cx="1379.5" cy="599.7" r="1.50"/><circle cx="1407.0" cy="599.7" r="1.50"/><circle cx="1434.5" cy="599.7" r="1.50"/><circle cx="1462.0" cy="599.7" r="1.50"/><circle cx="1489.5" cy="599.7" r="1.50"/><circle cx="1516.9" cy="599.7" r="1.50"/><circle cx="1544.4" cy="599.7" r="1.50"/><circle cx="1571.9" cy="599.7" r="1.50"/><circle cx="1599.4" cy="599.7" r="1.50"/><circle cx="1626.8" cy="599.7" r="1.50"/><circle cx="1654.3" cy="599.7" r="1.50"/><circle cx="1681.8" cy="599.7" r="1.50"/><circle cx="1709.2" cy="599.7" r="1.50"/><circle cx="1736.7" cy="599.7" r="1.50"/><circle cx="1764.2" cy="599.7" r="1.50"/><circle cx="5.8" cy="627.1" r="3.65"/><circle cx="33.3" cy="627.1" r="3.35"/><circle cx="60.8" cy="627.1" r="3.00"/><circle cx="88.2" cy="627.1" r="2.65"/><circle cx="115.7" cy="627.1" r="2.50"/><circle cx="143.2" cy="627.1" r="2.35"/><circle cx="170.7" cy="627.1" r="2.39"/><circle cx="198.1" cy="627.1" r="2.42"/><circle cx="225.6" cy="627.1" r="2.46"/><circle cx="253.1" cy="627.1" r="2.50"/><circle cx="280.6" cy="627.1" r="2.54"/><circle cx="308.0" cy="627.1" r="2.58"/><circle cx="335.5" cy="627.1" r="2.61"/><circle cx="363.0" cy="627.1" r="2.65"/><circle cx="390.5" cy="627.1" r="3.00"/><circle cx="417.9" cy="627.1" r="3.30"/><circle cx="445.4" cy="627.1" r="2.80"/><circle cx="472.9" cy="627.1" r="3.15"/><circle cx="500.4" cy="627.1" r="3.50"/><circle cx="527.8" cy="627.1" r="3.85"/><circle cx="555.3" cy="627.1" r="3.85"/><circle cx="582.8" cy="627.1" r="3.85"/><circle cx="610.2" cy="627.1" r="3.85"/><circle cx="637.7" cy="627.1" r="3.85"/><circle cx="665.2" cy="627.1" r="3.85"/><circle cx="692.7" cy="627.1" r="4.20"/><circle cx="720.1" cy="627.1" r="4.20"/><circle cx="747.6" cy="627.1" r="4.20"/><circle cx="775.1" cy="627.1" r="4.60"/><circle cx="802.6" cy="627.1" r="4.60"/><circle cx="830.0" cy="627.1" r="4.20"/><circle cx="857.5" cy="627.1" r="3.85"/><circle cx="885.0" cy="627.1" r="3.50"/><circle cx="912.5" cy="627.1" r="3.50"/><circle cx="940.0" cy="627.1" r="5.50"/><circle cx="967.4" cy="627.1" r="3.15"/><circle cx="994.9" cy="627.1" r="2.80"/><circle cx="1022.4" cy="627.1" r="2.64"/><circle cx="1049.8" cy="627.1" r="2.47"/><circle cx="1077.3" cy="627.1" r="2.31"/><circle cx="1104.8" cy="627.1" r="2.15"/><circle cx="1132.3" cy="627.1" r="1.99"/><circle cx="1159.8" cy="627.1" r="1.82"/><circle cx="1187.2" cy="627.1" r="1.66"/><circle cx="1214.7" cy="627.1" r="1.50"/><circle cx="1242.2" cy="627.1" r="1.50"/><circle cx="1269.7" cy="627.1" r="1.50"/><circle cx="1297.1" cy="627.1" r="1.50"/><circle cx="1324.6" cy="627.1" r="1.50"/><circle cx="1352.1" cy="627.1" r="1.50"/><circle cx="1379.5" cy="627.1" r="1.50"/><circle cx="1407.0" cy="627.1" r="1.50"/><circle cx="1434.5" cy="627.1" r="1.50"/><circle cx="1462.0" cy="627.1" r="1.50"/><circle cx="1489.5" cy="627.1" r="1.50"/><circle cx="1516.9" cy="627.1" r="1.50"/><circle cx="1544.4" cy="627.1" r="1.50"/><circle cx="1571.9" cy="627.1" r="1.50"/><circle cx="1599.4" cy="627.1" r="1.50"/><circle cx="1626.8" cy="627.1" r="1.50"/><circle cx="1654.3" cy="627.1" r="1.50"/><circle cx="1681.8" cy="627.1" r="1.50"/><circle cx="1709.2" cy="627.1" r="1.50"/><circle cx="1736.7" cy="627.1" r="1.50"/><circle cx="1764.2" cy="627.1" r="1.50"/><circle cx="5.8" cy="654.6" r="3.65"/><circle cx="33.3" cy="654.6" r="3.25"/><circle cx="60.8" cy="654.6" r="3.25"/><circle cx="88.2" cy="654.6" r="2.85"/><circle cx="115.7" cy="654.6" r="2.85"/><circle cx="143.2" cy="654.6" r="2.85"/><circle cx="170.7" cy="654.6" r="2.85"/><circle cx="198.1" cy="654.6" r="2.85"/><circle cx="225.6" cy="654.6" r="2.85"/><circle cx="253.1" cy="654.6" r="2.85"/><circle cx="280.6" cy="654.6" r="2.85"/><circle cx="308.0" cy="654.6" r="2.85"/><circle cx="335.5" cy="654.6" r="2.85"/><circle cx="363.0" cy="654.6" r="2.85"/><circle cx="390.5" cy="654.6" r="3.25"/><circle cx="417.9" cy="654.6" r="3.23"/><circle cx="445.4" cy="654.6" r="3.22"/><circle cx="472.9" cy="654.6" r="3.20"/><circle cx="500.4" cy="654.6" r="3.19"/><circle cx="527.8" cy="654.6" r="3.17"/><circle cx="555.3" cy="654.6" r="3.16"/><circle cx="582.8" cy="654.6" r="3.14"/><circle cx="610.2" cy="654.6" r="3.12"/><circle cx="637.7" cy="654.6" r="3.11"/><circle cx="665.2" cy="654.6" r="3.09"/><circle cx="692.7" cy="654.6" r="3.08"/><circle cx="720.1" cy="654.6" r="3.06"/><circle cx="747.6" cy="654.6" r="3.05"/><circle cx="775.1" cy="654.6" r="3.03"/><circle cx="802.6" cy="654.6" r="3.02"/><circle cx="830.0" cy="654.6" r="3.00"/><circle cx="857.5" cy="654.6" r="2.93"/><circle cx="885.0" cy="654.6" r="2.86"/><circle cx="912.5" cy="654.6" r="2.79"/><circle cx="940.0" cy="654.6" r="2.71"/><circle cx="967.4" cy="654.6" r="2.64"/><circle cx="994.9" cy="654.6" r="2.57"/><circle cx="1022.4" cy="654.6" r="2.50"/><circle cx="1049.8" cy="654.6" r="2.43"/><circle cx="1077.3" cy="654.6" r="2.36"/><circle cx="1104.8" cy="654.6" r="2.29"/><circle cx="1132.3" cy="654.6" r="2.21"/><circle cx="1159.8" cy="654.6" r="2.14"/><circle cx="1187.2" cy="654.6" r="2.07"/><circle cx="1214.7" cy="654.6" r="2.00"/><circle cx="1242.2" cy="654.6" r="1.96"/><circle cx="1269.7" cy="654.6" r="1.92"/><circle cx="1297.1" cy="654.6" r="1.88"/><circle cx="1324.6" cy="654.6" r="1.83"/><circle cx="1352.1" cy="654.6" r="1.79"/><circle cx="1379.5" cy="654.6" r="1.75"/><circle cx="1407.0" cy="654.6" r="1.71"/><circle cx="1434.5" cy="654.6" r="1.67"/><circle cx="1462.0" cy="654.6" r="1.62"/><circle cx="1489.5" cy="654.6" r="1.58"/><circle cx="1516.9" cy="654.6" r="1.54"/><circle cx="1544.4" cy="654.6" r="1.50"/><circle cx="1571.9" cy="654.6" r="1.12"/><circle cx="1599.4" cy="654.6" r="0.75"/><circle cx="1626.8" cy="654.6" r="0.38"/><circle cx="5.8" cy="682.0" r="3.25"/><circle cx="33.3" cy="682.0" r="2.85"/><circle cx="60.8" cy="682.0" r="2.85"/><circle cx="88.2" cy="682.0" r="2.85"/><circle cx="115.7" cy="682.0" r="2.85"/><circle cx="143.2" cy="682.0" r="2.45"/><circle cx="170.7" cy="682.0" r="2.48"/><circle cx="198.1" cy="682.0" r="2.52"/><circle cx="225.6" cy="682.0" r="2.55"/><circle cx="253.1" cy="682.0" r="2.58"/><circle cx="280.6" cy="682.0" r="2.62"/><circle cx="308.0" cy="682.0" r="2.65"/><circle cx="335.5" cy="682.0" r="2.68"/><circle cx="363.0" cy="682.0" r="2.72"/><circle cx="390.5" cy="682.0" r="2.75"/><circle cx="417.9" cy="682.0" r="2.77"/><circle cx="445.4" cy="682.0" r="2.78"/><circle cx="472.9" cy="682.0" r="2.80"/><circle cx="500.4" cy="682.0" r="2.81"/><circle cx="527.8" cy="682.0" r="2.83"/><circle cx="555.3" cy="682.0" r="2.84"/><circle cx="582.8" cy="682.0" r="2.86"/><circle cx="610.2" cy="682.0" r="2.88"/><circle cx="637.7" cy="682.0" r="2.89"/><circle cx="665.2" cy="682.0" r="2.91"/><circle cx="692.7" cy="682.0" r="2.92"/><circle cx="720.1" cy="682.0" r="2.94"/><circle cx="747.6" cy="682.0" r="2.95"/><circle cx="775.1" cy="682.0" r="2.97"/><circle cx="802.6" cy="682.0" r="2.98"/><circle cx="830.0" cy="682.0" r="3.00"/><circle cx="857.5" cy="682.0" r="2.96"/><circle cx="885.0" cy="682.0" r="2.93"/><circle cx="912.5" cy="682.0" r="2.89"/><circle cx="940.0" cy="682.0" r="2.86"/><circle cx="967.4" cy="682.0" r="2.82"/><circle cx="994.9" cy="682.0" r="2.79"/><circle cx="1022.4" cy="682.0" r="2.75"/><circle cx="1049.8" cy="682.0" r="2.71"/><circle cx="1077.3" cy="682.0" r="2.68"/><circle cx="1104.8" cy="682.0" r="2.64"/><circle cx="1132.3" cy="682.0" r="2.61"/><circle cx="1159.8" cy="682.0" r="2.57"/><circle cx="1187.2" cy="682.0" r="2.54"/><circle cx="1214.7" cy="682.0" r="2.50"/><circle cx="1242.2" cy="682.0" r="2.46"/><circle cx="1269.7" cy="682.0" r="2.42"/><circle cx="1297.1" cy="682.0" r="2.38"/><circle cx="1324.6" cy="682.0" r="2.33"/><circle cx="1352.1" cy="682.0" r="2.29"/><circle cx="1379.5" cy="682.0" r="2.25"/><circle cx="1407.0" cy="682.0" r="2.21"/><circle cx="1434.5" cy="682.0" r="2.17"/><circle cx="1462.0" cy="682.0" r="2.12"/><circle cx="1489.5" cy="682.0" r="2.08"/><circle cx="1516.9" cy="682.0" r="2.04"/><circle cx="1544.4" cy="682.0" r="2.00"/><circle cx="1571.9" cy="682.0" r="1.50"/><circle cx="1599.4" cy="682.0" r="1.00"/><circle cx="1626.8" cy="682.0" r="0.50"/><circle cx="5.8" cy="709.4" r="2.85"/><circle cx="33.3" cy="709.4" r="2.85"/><circle cx="60.8" cy="709.4" r="2.45"/><circle cx="88.2" cy="709.4" r="2.45"/><circle cx="115.7" cy="709.4" r="2.45"/><circle cx="143.2" cy="709.4" r="2.45"/><circle cx="170.7" cy="709.4" r="2.45"/><circle cx="198.1" cy="709.4" r="2.45"/><circle cx="225.6" cy="709.4" r="2.45"/><circle cx="253.1" cy="709.4" r="2.45"/><circle cx="280.6" cy="709.4" r="2.45"/><circle cx="308.0" cy="709.4" r="2.45"/><circle cx="335.5" cy="709.4" r="2.45"/><circle cx="363.0" cy="709.4" r="2.45"/><circle cx="390.5" cy="709.4" r="2.45"/><circle cx="417.9" cy="709.4" r="2.48"/><circle cx="445.4" cy="709.4" r="2.52"/><circle cx="472.9" cy="709.4" r="2.55"/><circle cx="500.4" cy="709.4" r="2.59"/><circle cx="527.8" cy="709.4" r="2.62"/><circle cx="555.3" cy="709.4" r="2.66"/><circle cx="582.8" cy="709.4" r="2.69"/><circle cx="610.2" cy="709.4" r="2.73"/><circle cx="637.7" cy="709.4" r="2.76"/><circle cx="665.2" cy="709.4" r="2.79"/><circle cx="692.7" cy="709.4" r="2.83"/><circle cx="720.1" cy="709.4" r="2.86"/><circle cx="747.6" cy="709.4" r="2.90"/><circle cx="775.1" cy="709.4" r="2.93"/><circle cx="802.6" cy="709.4" r="2.97"/><circle cx="830.0" cy="709.4" r="3.00"/><circle cx="857.5" cy="709.4" r="3.00"/><circle cx="885.0" cy="709.4" r="3.00"/><circle cx="912.5" cy="709.4" r="3.00"/><circle cx="940.0" cy="709.4" r="3.00"/><circle cx="967.4" cy="709.4" r="3.00"/><circle cx="994.9" cy="709.4" r="3.00"/><circle cx="1022.4" cy="709.4" r="3.00"/><circle cx="1049.8" cy="709.4" r="3.00"/><circle cx="1077.3" cy="709.4" r="3.00"/><circle cx="1104.8" cy="709.4" r="3.00"/><circle cx="1132.3" cy="709.4" r="3.00"/><circle cx="1159.8" cy="709.4" r="3.00"/><circle cx="1187.2" cy="709.4" r="3.00"/><circle cx="1214.7" cy="709.4" r="3.00"/><circle cx="1242.2" cy="709.4" r="2.96"/><circle cx="1269.7" cy="709.4" r="2.92"/><circle cx="1297.1" cy="709.4" r="2.88"/><circle cx="1324.6" cy="709.4" r="2.83"/><circle cx="1352.1" cy="709.4" r="2.79"/><circle cx="1379.5" cy="709.4" r="2.75"/><circle cx="1407.0" cy="709.4" r="2.71"/><circle cx="1434.5" cy="709.4" r="2.67"/><circle cx="1462.0" cy="709.4" r="2.62"/><circle cx="1489.5" cy="709.4" r="2.58"/><circle cx="1516.9" cy="709.4" r="2.54"/><circle cx="1544.4" cy="709.4" r="2.50"/><circle cx="1571.9" cy="709.4" r="1.88"/><circle cx="1599.4" cy="709.4" r="1.25"/><circle cx="1626.8" cy="709.4" r="0.62"/><circle cx="5.8" cy="736.9" r="2.45"/><circle cx="33.3" cy="736.9" r="2.45"/><circle cx="60.8" cy="736.9" r="2.45"/><circle cx="88.2" cy="736.9" r="2.45"/><circle cx="115.7" cy="736.9" r="2.45"/><circle cx="143.2" cy="736.9" r="2.45"/><circle cx="170.7" cy="736.9" r="2.45"/><circle cx="198.1" cy="736.9" r="2.45"/><circle cx="225.6" cy="736.9" r="2.45"/><circle cx="253.1" cy="736.9" r="2.45"/><circle cx="280.6" cy="736.9" r="2.45"/><circle cx="308.0" cy="736.9" r="2.45"/><circle cx="335.5" cy="736.9" r="2.45"/><circle cx="363.0" cy="736.9" r="2.45"/><circle cx="390.5" cy="736.9" r="2.45"/><circle cx="417.9" cy="736.9" r="2.20"/><circle cx="445.4" cy="736.9" r="2.10"/><circle cx="472.9" cy="736.9" r="2.10"/><circle cx="500.4" cy="736.9" r="2.45"/><circle cx="527.8" cy="736.9" r="2.45"/><circle cx="555.3" cy="736.9" r="2.80"/><circle cx="582.8" cy="736.9" r="2.80"/><circle cx="610.2" cy="736.9" r="3.15"/><circle cx="637.7" cy="736.9" r="3.15"/><circle cx="665.2" cy="736.9" r="3.50"/><circle cx="692.7" cy="736.9" r="3.50"/><circle cx="720.1" cy="736.9" r="3.50"/><circle cx="747.6" cy="736.9" r="3.85"/><circle cx="775.1" cy="736.9" r="3.85"/><circle cx="802.6" cy="736.9" r="3.85"/><circle cx="830.0" cy="736.9" r="3.85"/><circle cx="857.5" cy="736.9" r="3.85"/><circle cx="885.0" cy="736.9" r="3.85"/><circle cx="912.5" cy="736.9" r="3.85"/><circle cx="940.0" cy="736.9" r="3.85"/><circle cx="967.4" cy="736.9" r="3.85"/><circle cx="994.9" cy="736.9" r="3.85"/><circle cx="1022.4" cy="736.9" r="3.81"/><circle cx="1049.8" cy="736.9" r="3.76"/><circle cx="1077.3" cy="736.9" r="3.72"/><circle cx="1104.8" cy="736.9" r="3.67"/><circle cx="1132.3" cy="736.9" r="3.63"/><circle cx="1159.8" cy="736.9" r="3.59"/><circle cx="1187.2" cy="736.9" r="3.54"/><circle cx="1214.7" cy="736.9" r="3.50"/><circle cx="1242.2" cy="736.9" r="3.50"/><circle cx="1269.7" cy="736.9" r="3.50"/><circle cx="1297.1" cy="736.9" r="3.50"/><circle cx="1324.6" cy="736.9" r="3.50"/><circle cx="1352.1" cy="736.9" r="3.50"/><circle cx="1379.5" cy="736.9" r="3.50"/><circle cx="1407.0" cy="736.9" r="3.50"/><circle cx="1434.5" cy="736.9" r="3.50"/><circle cx="1462.0" cy="736.9" r="3.50"/><circle cx="1489.5" cy="736.9" r="3.50"/><circle cx="1516.9" cy="736.9" r="2.62"/><circle cx="1544.4" cy="736.9" r="1.75"/><circle cx="1571.9" cy="736.9" r="0.88"/><circle cx="5.8" cy="764.3" r="2.00"/><circle cx="33.3" cy="764.3" r="2.00"/><circle cx="60.8" cy="764.3" r="2.00"/><circle cx="88.2" cy="764.3" r="2.00"/><circle cx="115.7" cy="764.3" r="2.00"/><circle cx="143.2" cy="764.3" r="2.00"/><circle cx="170.7" cy="764.3" r="2.00"/><circle cx="198.1" cy="764.3" r="2.00"/><circle cx="225.6" cy="764.3" r="2.00"/><circle cx="253.1" cy="764.3" r="2.00"/><circle cx="280.6" cy="764.3" r="2.00"/><circle cx="308.0" cy="764.3" r="2.00"/><circle cx="335.5" cy="764.3" r="2.00"/><circle cx="363.0" cy="764.3" r="2.00"/><circle cx="390.5" cy="764.3" r="2.00"/><circle cx="417.9" cy="764.3" r="1.90"/><circle cx="445.4" cy="764.3" r="1.75"/><circle cx="472.9" cy="764.3" r="1.75"/><circle cx="500.4" cy="764.3" r="2.10"/><circle cx="527.8" cy="764.3" r="2.10"/><circle cx="555.3" cy="764.3" r="2.45"/><circle cx="582.8" cy="764.3" r="2.80"/><circle cx="610.2" cy="764.3" r="2.80"/><circle cx="637.7" cy="764.3" r="3.15"/><circle cx="665.2" cy="764.3" r="3.15"/><circle cx="692.7" cy="764.3" r="3.50"/><circle cx="720.1" cy="764.3" r="3.50"/><circle cx="747.6" cy="764.3" r="3.50"/><circle cx="775.1" cy="764.3" r="3.85"/><circle cx="802.6" cy="764.3" r="3.85"/><circle cx="830.0" cy="764.3" r="3.85"/><circle cx="857.5" cy="764.3" r="3.85"/><circle cx="885.0" cy="764.3" r="3.85"/><circle cx="912.5" cy="764.3" r="3.85"/><circle cx="940.0" cy="764.3" r="3.85"/><circle cx="967.4" cy="764.3" r="3.85"/><circle cx="994.9" cy="764.3" r="3.85"/><circle cx="1022.4" cy="764.3" r="3.81"/><circle cx="1049.8" cy="764.3" r="3.76"/><circle cx="1077.3" cy="764.3" r="3.72"/><circle cx="1104.8" cy="764.3" r="3.67"/><circle cx="1132.3" cy="764.3" r="3.63"/><circle cx="1159.8" cy="764.3" r="3.59"/><circle cx="1187.2" cy="764.3" r="3.54"/><circle cx="1214.7" cy="764.3" r="3.50"/><circle cx="1242.2" cy="764.3" r="3.50"/><circle cx="1269.7" cy="764.3" r="3.50"/><circle cx="1297.1" cy="764.3" r="3.50"/><circle cx="1324.6" cy="764.3" r="3.50"/><circle cx="1352.1" cy="764.3" r="3.50"/><circle cx="1379.5" cy="764.3" r="3.50"/><circle cx="1407.0" cy="764.3" r="3.50"/><circle cx="1434.5" cy="764.3" r="3.50"/><circle cx="1462.0" cy="764.3" r="3.50"/><circle cx="1489.5" cy="764.3" r="3.50"/><circle cx="1516.9" cy="764.3" r="2.62"/><circle cx="1544.4" cy="764.3" r="1.75"/><circle cx="1571.9" cy="764.3" r="0.88"/><circle cx="5.8" cy="791.8" r="2.00"/><circle cx="33.3" cy="791.8" r="2.00"/><circle cx="60.8" cy="791.8" r="2.00"/><circle cx="88.2" cy="791.8" r="2.00"/><circle cx="115.7" cy="791.8" r="2.00"/><circle cx="143.2" cy="791.8" r="2.00"/><circle cx="170.7" cy="791.8" r="2.00"/><circle cx="198.1" cy="791.8" r="2.00"/><circle cx="225.6" cy="791.8" r="2.00"/><circle cx="253.1" cy="791.8" r="2.00"/><circle cx="280.6" cy="791.8" r="2.00"/><circle cx="308.0" cy="791.8" r="2.00"/><circle cx="335.5" cy="791.8" r="2.00"/><circle cx="363.0" cy="791.8" r="2.00"/><circle cx="390.5" cy="791.8" r="2.00"/><circle cx="417.9" cy="791.8" r="2.05"/><circle cx="445.4" cy="791.8" r="2.09"/><circle cx="472.9" cy="791.8" r="2.14"/><circle cx="500.4" cy="791.8" r="2.19"/><circle cx="527.8" cy="791.8" r="2.23"/><circle cx="555.3" cy="791.8" r="2.28"/><circle cx="582.8" cy="791.8" r="2.33"/><circle cx="610.2" cy="791.8" r="2.38"/><circle cx="637.7" cy="791.8" r="2.42"/><circle cx="665.2" cy="791.8" r="2.47"/><circle cx="692.7" cy="791.8" r="2.52"/><circle cx="720.1" cy="791.8" r="2.56"/><circle cx="747.6" cy="791.8" r="2.61"/><circle cx="775.1" cy="791.8" r="2.66"/><circle cx="802.6" cy="791.8" r="2.70"/><circle cx="830.0" cy="791.8" r="2.75"/><circle cx="857.5" cy="791.8" r="2.77"/><circle cx="885.0" cy="791.8" r="2.79"/><circle cx="912.5" cy="791.8" r="2.80"/><circle cx="940.0" cy="791.8" r="2.82"/><circle cx="967.4" cy="791.8" r="2.84"/><circle cx="994.9" cy="791.8" r="2.86"/><circle cx="1022.4" cy="791.8" r="2.88"/><circle cx="1049.8" cy="791.8" r="2.89"/><circle cx="1077.3" cy="791.8" r="2.91"/><circle cx="1104.8" cy="791.8" r="2.93"/><circle cx="1132.3" cy="791.8" r="2.95"/><circle cx="1159.8" cy="791.8" r="2.96"/><circle cx="1187.2" cy="791.8" r="2.98"/><circle cx="1214.7" cy="791.8" r="3.00"/><circle cx="1242.2" cy="791.8" r="2.90"/><circle cx="1269.7" cy="791.8" r="2.80"/><circle cx="1297.1" cy="791.8" r="2.70"/><circle cx="1324.6" cy="791.8" r="2.60"/><circle cx="1352.1" cy="791.8" r="2.50"/><circle cx="1379.5" cy="791.8" r="2.40"/><circle cx="1407.0" cy="791.8" r="2.30"/><circle cx="1434.5" cy="791.8" r="2.20"/><circle cx="1462.0" cy="791.8" r="2.10"/><circle cx="1489.5" cy="791.8" r="2.00"/><circle cx="1516.9" cy="791.8" r="1.50"/><circle cx="1544.4" cy="791.8" r="1.00"/><circle cx="1571.9" cy="791.8" r="0.50"/><circle cx="5.8" cy="819.2" r="1.65"/><circle cx="33.3" cy="819.2" r="1.65"/><circle cx="60.8" cy="819.2" r="1.65"/><circle cx="88.2" cy="819.2" r="1.65"/><circle cx="115.7" cy="819.2" r="1.65"/><circle cx="143.2" cy="819.2" r="1.65"/><circle cx="170.7" cy="819.2" r="1.65"/><circle cx="198.1" cy="819.2" r="1.65"/><circle cx="225.6" cy="819.2" r="1.65"/><circle cx="253.1" cy="819.2" r="1.65"/><circle cx="280.6" cy="819.2" r="1.65"/><circle cx="308.0" cy="819.2" r="1.65"/><circle cx="335.5" cy="819.2" r="1.65"/><circle cx="363.0" cy="819.2" r="1.65"/><circle cx="390.5" cy="819.2" r="1.65"/><circle cx="417.9" cy="819.2" r="1.70"/><circle cx="445.4" cy="819.2" r="1.76"/><circle cx="472.9" cy="819.2" r="1.81"/><circle cx="500.4" cy="819.2" r="1.86"/><circle cx="527.8" cy="819.2" r="1.92"/><circle cx="555.3" cy="819.2" r="1.97"/><circle cx="582.8" cy="819.2" r="2.02"/><circle cx="610.2" cy="819.2" r="2.08"/><circle cx="637.7" cy="819.2" r="2.13"/><circle cx="665.2" cy="819.2" r="2.18"/><circle cx="692.7" cy="819.2" r="2.23"/><circle cx="720.1" cy="819.2" r="2.29"/><circle cx="747.6" cy="819.2" r="2.34"/><circle cx="775.1" cy="819.2" r="2.39"/><circle cx="802.6" cy="819.2" r="2.45"/><circle cx="830.0" cy="819.2" r="2.50"/><circle cx="857.5" cy="819.2" r="2.50"/><circle cx="885.0" cy="819.2" r="2.50"/><circle cx="912.5" cy="819.2" r="2.50"/><circle cx="940.0" cy="819.2" r="2.50"/><circle cx="967.4" cy="819.2" r="2.50"/><circle cx="994.9" cy="819.2" r="2.50"/><circle cx="1022.4" cy="819.2" r="2.50"/><circle cx="1049.8" cy="819.2" r="2.50"/><circle cx="1077.3" cy="819.2" r="2.50"/><circle cx="1104.8" cy="819.2" r="2.50"/><circle cx="1132.3" cy="819.2" r="2.50"/><circle cx="1159.8" cy="819.2" r="2.50"/><circle cx="1187.2" cy="819.2" r="2.50"/><circle cx="1214.7" cy="819.2" r="2.50"/><circle cx="1242.2" cy="819.2" r="2.35"/><circle cx="1269.7" cy="819.2" r="2.20"/><circle cx="1297.1" cy="819.2" r="2.05"/><circle cx="1324.6" cy="819.2" r="1.90"/><circle cx="1352.1" cy="819.2" r="1.75"/><circle cx="1379.5" cy="819.2" r="1.60"/><circle cx="1407.0" cy="819.2" r="1.45"/><circle cx="1434.5" cy="819.2" r="1.30"/><circle cx="1462.0" cy="819.2" r="1.15"/><circle cx="1489.5" cy="819.2" r="1.00"/><circle cx="1516.9" cy="819.2" r="0.75"/><circle cx="1544.4" cy="819.2" r="0.50"/><circle cx="5.8" cy="846.7" r="1.65"/><circle cx="33.3" cy="846.7" r="1.65"/><circle cx="60.8" cy="846.7" r="1.65"/><circle cx="88.2" cy="846.7" r="1.65"/><circle cx="115.7" cy="846.7" r="1.65"/><circle cx="143.2" cy="846.7" r="1.65"/><circle cx="170.7" cy="846.7" r="1.65"/><circle cx="198.1" cy="846.7" r="1.65"/><circle cx="225.6" cy="846.7" r="1.65"/><circle cx="253.1" cy="846.7" r="1.65"/><circle cx="280.6" cy="846.7" r="1.65"/><circle cx="308.0" cy="846.7" r="1.65"/><circle cx="335.5" cy="846.7" r="1.65"/><circle cx="363.0" cy="846.7" r="1.65"/><circle cx="390.5" cy="846.7" r="1.65"/><circle cx="417.9" cy="846.7" r="1.69"/><circle cx="445.4" cy="846.7" r="1.72"/><circle cx="472.9" cy="846.7" r="1.76"/><circle cx="500.4" cy="846.7" r="1.80"/><circle cx="527.8" cy="846.7" r="1.84"/><circle cx="555.3" cy="846.7" r="1.88"/><circle cx="582.8" cy="846.7" r="1.91"/><circle cx="610.2" cy="846.7" r="1.95"/><circle cx="637.7" cy="846.7" r="1.99"/><circle cx="665.2" cy="846.7" r="2.02"/><circle cx="692.7" cy="846.7" r="2.06"/><circle cx="720.1" cy="846.7" r="2.10"/><circle cx="747.6" cy="846.7" r="2.14"/><circle cx="775.1" cy="846.7" r="2.17"/><circle cx="802.6" cy="846.7" r="2.21"/><circle cx="830.0" cy="846.7" r="2.25"/><circle cx="857.5" cy="846.7" r="2.23"/><circle cx="885.0" cy="846.7" r="2.20"/><circle cx="912.5" cy="846.7" r="2.17"/><circle cx="940.0" cy="846.7" r="2.15"/><circle cx="967.4" cy="846.7" r="2.12"/><circle cx="994.9" cy="846.7" r="2.10"/><circle cx="1022.4" cy="846.7" r="2.08"/><circle cx="1049.8" cy="846.7" r="2.05"/><circle cx="1077.3" cy="846.7" r="2.02"/><circle cx="1104.8" cy="846.7" r="2.00"/><circle cx="1132.3" cy="846.7" r="1.67"/><circle cx="1159.8" cy="846.7" r="1.33"/><circle cx="1187.2" cy="846.7" r="1.00"/><circle cx="1214.7" cy="846.7" r="0.67"/><circle cx="1242.2" cy="846.7" r="0.33"/><circle cx="5.8" cy="874.1" r="1.30"/><circle cx="33.3" cy="874.1" r="1.30"/><circle cx="60.8" cy="874.1" r="1.30"/><circle cx="88.2" cy="874.1" r="1.30"/><circle cx="115.7" cy="874.1" r="1.30"/><circle cx="143.2" cy="874.1" r="1.30"/><circle cx="170.7" cy="874.1" r="1.30"/><circle cx="198.1" cy="874.1" r="1.30"/><circle cx="225.6" cy="874.1" r="1.30"/><circle cx="253.1" cy="874.1" r="1.30"/><circle cx="280.6" cy="874.1" r="1.30"/><circle cx="308.0" cy="874.1" r="1.30"/><circle cx="335.5" cy="874.1" r="1.30"/><circle cx="363.0" cy="874.1" r="1.30"/><circle cx="390.5" cy="874.1" r="1.30"/><circle cx="417.9" cy="874.1" r="1.33"/><circle cx="445.4" cy="874.1" r="1.35"/><circle cx="472.9" cy="874.1" r="1.35"/><circle cx="500.4" cy="874.1" r="1.35"/><circle cx="527.8" cy="874.1" r="1.35"/><circle cx="555.3" cy="874.1" r="1.35"/><circle cx="582.8" cy="874.1" r="1.35"/><circle cx="610.2" cy="874.1" r="1.35"/><circle cx="637.7" cy="874.1" r="1.30"/><circle cx="665.2" cy="874.1" r="1.65"/><circle cx="692.7" cy="874.1" r="1.95"/><circle cx="720.1" cy="874.1" r="2.08"/><circle cx="747.6" cy="874.1" r="2.20"/><circle cx="775.1" cy="874.1" r="2.20"/><circle cx="802.6" cy="874.1" r="2.75"/><circle cx="830.0" cy="874.1" r="2.75"/><circle cx="857.5" cy="874.1" r="2.75"/><circle cx="885.0" cy="874.1" r="3.15"/><circle cx="912.5" cy="874.1" r="3.50"/><circle cx="940.0" cy="874.1" r="3.50"/><circle cx="967.4" cy="874.1" r="3.50"/><circle cx="994.9" cy="874.1" r="3.50"/><circle cx="1022.4" cy="874.1" r="3.31"/><circle cx="1049.8" cy="874.1" r="3.12"/><circle cx="1077.3" cy="874.1" r="2.94"/><circle cx="1104.8" cy="874.1" r="2.75"/><circle cx="1132.3" cy="874.1" r="2.06"/><circle cx="1159.8" cy="874.1" r="1.38"/><circle cx="1187.2" cy="874.1" r="0.69"/><circle cx="5.8" cy="901.6" r="1.15"/><circle cx="33.3" cy="901.6" r="1.15"/><circle cx="60.8" cy="901.6" r="1.15"/><circle cx="88.2" cy="901.6" r="1.15"/><circle cx="115.7" cy="901.6" r="1.15"/><circle cx="143.2" cy="901.6" r="1.15"/><circle cx="170.7" cy="901.6" r="1.15"/><circle cx="198.1" cy="901.6" r="1.15"/><circle cx="225.6" cy="901.6" r="1.15"/><circle cx="253.1" cy="901.6" r="1.15"/><circle cx="280.6" cy="901.6" r="1.15"/><circle cx="308.0" cy="901.6" r="1.15"/><circle cx="335.5" cy="901.6" r="1.15"/><circle cx="363.0" cy="901.6" r="1.15"/><circle cx="390.5" cy="901.6" r="1.15"/><circle cx="417.9" cy="901.6" r="1.12"/><circle cx="445.4" cy="901.6" r="1.10"/><circle cx="472.9" cy="901.6" r="1.10"/><circle cx="500.4" cy="901.6" r="1.10"/><circle cx="527.8" cy="901.6" r="1.35"/><circle cx="555.3" cy="901.6" r="1.43"/><circle cx="582.8" cy="901.6" r="1.50"/><circle cx="610.2" cy="901.6" r="1.65"/><circle cx="637.7" cy="901.6" r="1.75"/><circle cx="665.2" cy="901.6" r="1.95"/><circle cx="692.7" cy="901.6" r="1.95"/><circle cx="720.1" cy="901.6" r="2.30"/><circle cx="747.6" cy="901.6" r="2.30"/><circle cx="775.1" cy="901.6" r="2.80"/><circle cx="802.6" cy="901.6" r="2.80"/><circle cx="830.0" cy="901.6" r="2.80"/><circle cx="857.5" cy="901.6" r="3.15"/><circle cx="885.0" cy="901.6" r="3.15"/><circle cx="912.5" cy="901.6" r="3.15"/><circle cx="940.0" cy="901.6" r="3.50"/><circle cx="967.4" cy="901.6" r="3.50"/><circle cx="994.9" cy="901.6" r="3.50"/><circle cx="1022.4" cy="901.6" r="3.31"/><circle cx="1049.8" cy="901.6" r="3.12"/><circle cx="1077.3" cy="901.6" r="2.94"/><circle cx="1104.8" cy="901.6" r="2.75"/><circle cx="1132.3" cy="901.6" r="2.06"/><circle cx="1159.8" cy="901.6" r="1.38"/><circle cx="1187.2" cy="901.6" r="0.69"/><circle cx="5.8" cy="929.0" r="1.00"/><circle cx="33.3" cy="929.0" r="1.00"/><circle cx="60.8" cy="929.0" r="1.00"/><circle cx="88.2" cy="929.0" r="1.00"/><circle cx="115.7" cy="929.0" r="1.00"/><circle cx="143.2" cy="929.0" r="1.00"/><circle cx="170.7" cy="929.0" r="1.00"/><circle cx="198.1" cy="929.0" r="1.00"/><circle cx="225.6" cy="929.0" r="1.00"/><circle cx="253.1" cy="929.0" r="1.00"/><circle cx="280.6" cy="929.0" r="1.00"/><circle cx="308.0" cy="929.0" r="1.00"/><circle cx="335.5" cy="929.0" r="1.00"/><circle cx="363.0" cy="929.0" r="1.00"/><circle cx="390.5" cy="929.0" r="1.00"/><circle cx="417.9" cy="929.0" r="1.05"/><circle cx="445.4" cy="929.0" r="1.10"/><circle cx="472.9" cy="929.0" r="1.16"/><circle cx="500.4" cy="929.0" r="1.23"/><circle cx="527.8" cy="929.0" r="1.29"/><circle cx="555.3" cy="929.0" r="1.35"/><circle cx="582.8" cy="929.0" r="1.50"/><circle cx="610.2" cy="929.0" r="1.65"/><circle cx="637.7" cy="929.0" r="1.75"/><circle cx="665.2" cy="929.0" r="1.75"/><circle cx="692.7" cy="929.0" r="1.95"/><circle cx="720.1" cy="929.0" r="2.30"/><circle cx="747.6" cy="929.0" r="2.30"/><circle cx="775.1" cy="929.0" r="2.80"/><circle cx="802.6" cy="929.0" r="2.80"/><circle cx="830.0" cy="929.0" r="2.80"/><circle cx="857.5" cy="929.0" r="3.15"/><circle cx="885.0" cy="929.0" r="3.15"/><circle cx="912.5" cy="929.0" r="3.15"/><circle cx="940.0" cy="929.0" r="3.50"/><circle cx="967.4" cy="929.0" r="3.67"/><circle cx="994.9" cy="929.0" r="3.85"/><circle cx="1022.4" cy="929.0" r="3.58"/><circle cx="1049.8" cy="929.0" r="3.30"/><circle cx="1077.3" cy="929.0" r="3.02"/><circle cx="1104.8" cy="929.0" r="2.75"/><circle cx="1132.3" cy="929.0" r="2.06"/><circle cx="1159.8" cy="929.0" r="1.38"/><circle cx="1187.2" cy="929.0" r="0.69"/><circle cx="5.8" cy="956.5" r="0.75"/><circle cx="33.3" cy="956.5" r="0.75"/><circle cx="60.8" cy="956.5" r="0.75"/><circle cx="88.2" cy="956.5" r="0.75"/><circle cx="115.7" cy="956.5" r="0.75"/><circle cx="143.2" cy="956.5" r="0.75"/><circle cx="170.7" cy="956.5" r="0.75"/><circle cx="198.1" cy="956.5" r="0.75"/><circle cx="225.6" cy="956.5" r="0.75"/><circle cx="253.1" cy="956.5" r="0.75"/><circle cx="280.6" cy="956.5" r="0.75"/><circle cx="308.0" cy="956.5" r="0.75"/><circle cx="335.5" cy="956.5" r="0.75"/><circle cx="363.0" cy="956.5" r="0.75"/><circle cx="390.5" cy="956.5" r="0.75"/><circle cx="417.9" cy="956.5" r="0.57"/><circle cx="445.4" cy="956.5" r="0.40"/><circle cx="472.9" cy="956.5" r="0.51"/><circle cx="500.4" cy="956.5" r="0.63"/><circle cx="527.8" cy="956.5" r="0.74"/><circle cx="555.3" cy="956.5" r="0.86"/><circle cx="582.8" cy="956.5" r="0.97"/><circle cx="610.2" cy="956.5" r="1.09"/><circle cx="637.7" cy="956.5" r="1.20"/><circle cx="665.2" cy="956.5" r="1.31"/><circle cx="692.7" cy="956.5" r="1.43"/><circle cx="720.1" cy="956.5" r="1.54"/><circle cx="747.6" cy="956.5" r="1.66"/><circle cx="775.1" cy="956.5" r="1.77"/><circle cx="802.6" cy="956.5" r="1.89"/><circle cx="830.0" cy="956.5" r="2.00"/><circle cx="857.5" cy="956.5" r="2.08"/><circle cx="885.0" cy="956.5" r="2.17"/><circle cx="912.5" cy="956.5" r="2.25"/><circle cx="940.0" cy="956.5" r="2.33"/><circle cx="967.4" cy="956.5" r="2.42"/><circle cx="994.9" cy="956.5" r="2.50"/><circle cx="1022.4" cy="956.5" r="2.25"/><circle cx="1049.8" cy="956.5" r="2.00"/><circle cx="1077.3" cy="956.5" r="1.75"/><circle cx="1104.8" cy="956.5" r="1.50"/><circle cx="1132.3" cy="956.5" r="1.12"/><circle cx="1159.8" cy="956.5" r="0.75"/><circle cx="1187.2" cy="956.5" r="0.38"/><circle cx="5.8" cy="983.9" r="0.60"/><circle cx="33.3" cy="983.9" r="0.60"/><circle cx="60.8" cy="983.9" r="0.60"/><circle cx="88.2" cy="983.9" r="0.60"/><circle cx="115.7" cy="983.9" r="0.60"/><circle cx="143.2" cy="983.9" r="0.60"/><circle cx="170.7" cy="983.9" r="0.60"/><circle cx="198.1" cy="983.9" r="0.60"/><circle cx="225.6" cy="983.9" r="0.60"/><circle cx="253.1" cy="983.9" r="0.60"/><circle cx="280.6" cy="983.9" r="0.60"/><circle cx="308.0" cy="983.9" r="0.60"/><circle cx="335.5" cy="983.9" r="0.60"/><circle cx="363.0" cy="983.9" r="0.60"/><circle cx="390.5" cy="983.9" r="0.60"/><circle cx="417.9" cy="983.9" r="0.50"/><circle cx="445.4" cy="983.9" r="0.40"/><circle cx="472.9" cy="983.9" r="0.51"/><circle cx="500.4" cy="983.9" r="0.63"/><circle cx="527.8" cy="983.9" r="0.74"/><circle cx="555.3" cy="983.9" r="0.86"/><circle cx="582.8" cy="983.9" r="0.97"/><circle cx="610.2" cy="983.9" r="1.09"/><circle cx="637.7" cy="983.9" r="1.20"/><circle cx="665.2" cy="983.9" r="1.31"/><circle cx="692.7" cy="983.9" r="1.43"/><circle cx="720.1" cy="983.9" r="1.54"/><circle cx="747.6" cy="983.9" r="1.66"/><circle cx="775.1" cy="983.9" r="1.77"/><circle cx="802.6" cy="983.9" r="1.89"/><circle cx="830.0" cy="983.9" r="2.00"/><circle cx="857.5" cy="983.9" r="2.08"/><circle cx="885.0" cy="983.9" r="2.17"/><circle cx="912.5" cy="983.9" r="2.25"/><circle cx="940.0" cy="983.9" r="2.33"/><circle cx="967.4" cy="983.9" r="2.42"/><circle cx="994.9" cy="983.9" r="2.50"/><circle cx="1022.4" cy="983.9" r="2.25"/><circle cx="1049.8" cy="983.9" r="2.00"/><circle cx="1077.3" cy="983.9" r="1.75"/><circle cx="1104.8" cy="983.9" r="1.50"/><circle cx="1132.3" cy="983.9" r="1.12"/><circle cx="1159.8" cy="983.9" r="0.75"/><circle cx="1187.2" cy="983.9" r="0.38"/><circle cx="5.8" cy="1011.3" r="0.40"/><circle cx="33.3" cy="1011.3" r="0.40"/><circle cx="60.8" cy="1011.3" r="0.40"/><circle cx="88.2" cy="1011.3" r="0.40"/><circle cx="115.7" cy="1011.3" r="0.40"/><circle cx="143.2" cy="1011.3" r="0.40"/><circle cx="170.7" cy="1011.3" r="0.40"/><circle cx="198.1" cy="1011.3" r="0.40"/><circle cx="225.6" cy="1011.3" r="0.40"/><circle cx="253.1" cy="1011.3" r="0.40"/><circle cx="280.6" cy="1011.3" r="0.40"/><circle cx="308.0" cy="1011.3" r="0.40"/><circle cx="335.5" cy="1011.3" r="0.40"/><circle cx="363.0" cy="1011.3" r="0.40"/><circle cx="390.5" cy="1011.3" r="0.40"/><circle cx="417.9" cy="1011.3" r="0.40"/><circle cx="445.4" cy="1011.3" r="0.40"/><circle cx="472.9" cy="1011.3" r="0.51"/><circle cx="500.4" cy="1011.3" r="0.63"/><circle cx="527.8" cy="1011.3" r="0.74"/><circle cx="555.3" cy="1011.3" r="0.86"/><circle cx="582.8" cy="1011.3" r="0.97"/><circle cx="610.2" cy="1011.3" r="1.09"/><circle cx="637.7" cy="1011.3" r="1.20"/><circle cx="665.2" cy="1011.3" r="1.31"/><circle cx="692.7" cy="1011.3" r="1.43"/><circle cx="720.1" cy="1011.3" r="1.54"/><circle cx="747.6" cy="1011.3" r="1.66"/><circle cx="775.1" cy="1011.3" r="1.77"/><circle cx="802.6" cy="1011.3" r="1.89"/><circle cx="830.0" cy="1011.3" r="2.00"/><circle cx="857.5" cy="1011.3" r="2.08"/><circle cx="885.0" cy="1011.3" r="2.17"/><circle cx="912.5" cy="1011.3" r="2.25"/><circle cx="940.0" cy="1011.3" r="2.33"/><circle cx="967.4" cy="1011.3" r="2.42"/><circle cx="994.9" cy="1011.3" r="2.50"/><circle cx="1022.4" cy="1011.3" r="2.25"/><circle cx="1049.8" cy="1011.3" r="2.00"/><circle cx="1077.3" cy="1011.3" r="1.75"/><circle cx="1104.8" cy="1011.3" r="1.50"/><circle cx="1132.3" cy="1011.3" r="1.12"/><circle cx="1159.8" cy="1011.3" r="0.75"/><circle cx="1187.2" cy="1011.3" r="0.38"/><circle cx="665.2" cy="1038.8" r="1.10"/><circle cx="692.7" cy="1038.8" r="1.35"/><circle cx="720.1" cy="1038.8" r="1.65"/><circle cx="747.6" cy="1038.8" r="1.95"/><circle cx="775.1" cy="1038.8" r="2.30"/><circle cx="802.6" cy="1038.8" r="2.65"/><circle cx="830.0" cy="1038.8" r="2.72"/><circle cx="857.5" cy="1038.8" r="2.80"/><circle cx="885.0" cy="1038.8" r="2.80"/><circle cx="912.5" cy="1038.8" r="2.80"/><circle cx="940.0" cy="1038.8" r="3.15"/><circle cx="967.4" cy="1038.8" r="3.50"/><circle cx="994.9" cy="1038.8" r="3.50"/><circle cx="1022.4" cy="1038.8" r="2.85"/><circle cx="1049.8" cy="1038.8" r="2.20"/><circle cx="1077.3" cy="1038.8" r="1.10"/><circle cx="1736.7" cy="1038.8" r="2.00"/><circle cx="1764.2" cy="1038.8" r="4.00"/><circle cx="665.2" cy="1066.2" r="1.25"/><circle cx="692.7" cy="1066.2" r="1.65"/><circle cx="720.1" cy="1066.2" r="1.95"/><circle cx="747.6" cy="1066.2" r="2.30"/><circle cx="775.1" cy="1066.2" r="2.30"/><circle cx="802.6" cy="1066.2" r="2.65"/><circle cx="830.0" cy="1066.2" r="2.65"/><circle cx="857.5" cy="1066.2" r="2.65"/><circle cx="885.0" cy="1066.2" r="2.80"/><circle cx="912.5" cy="1066.2" r="3.15"/><circle cx="940.0" cy="1066.2" r="3.15"/><circle cx="967.4" cy="1066.2" r="3.50"/><circle cx="994.9" cy="1066.2" r="3.50"/><circle cx="1022.4" cy="1066.2" r="2.85"/><circle cx="1049.8" cy="1066.2" r="2.20"/><circle cx="1077.3" cy="1066.2" r="1.10"/><circle cx="1736.7" cy="1066.2" r="5.00"/><circle cx="1764.2" cy="1066.2" r="6.50"/><circle cx="1709.2" cy="1093.7" r="6.00"/><circle cx="1736.7" cy="1093.7" r="6.50"/><circle cx="1764.2" cy="1093.7" r="7.00"/><circle cx="1681.8" cy="1121.1" r="6.50"/><circle cx="1709.2" cy="1121.1" r="6.67"/><circle cx="1736.7" cy="1121.1" r="6.83"/><circle cx="1764.2" cy="1121.1" r="7.00"/><circle cx="1654.3" cy="1148.6" r="4.00"/><circle cx="1681.8" cy="1148.6" r="7.00"/><circle cx="1709.2" cy="1148.6" r="7.00"/><circle cx="1736.7" cy="1148.6" r="7.00"/><circle cx="1764.2" cy="1148.6" r="7.00"/><circle cx="1654.3" cy="1176.0" r="5.00"/><circle cx="1681.8" cy="1176.0" r="7.00"/><circle cx="1709.2" cy="1176.0" r="7.00"/><circle cx="1736.7" cy="1176.0" r="7.00"/><circle cx="1764.2" cy="1176.0" r="7.00"/><circle cx="1626.8" cy="1203.5" r="3.00"/><circle cx="1654.3" cy="1203.5" r="7.00"/><circle cx="1681.8" cy="1203.5" r="7.00"/><circle cx="1709.2" cy="1203.5" r="7.00"/><circle cx="1736.7" cy="1203.5" r="7.00"/><circle cx="1764.2" cy="1203.5" r="7.00"/><circle cx="1626.8" cy="1230.9" r="3.00"/><circle cx="1654.3" cy="1230.9" r="7.00"/><circle cx="1681.8" cy="1230.9" r="7.00"/><circle cx="1709.2" cy="1230.9" r="7.00"/><circle cx="1736.7" cy="1230.9" r="7.00"/><circle cx="1764.2" cy="1230.9" r="7.00"/><circle cx="1626.8" cy="1258.3" r="3.00"/><circle cx="1654.3" cy="1258.3" r="7.00"/><circle cx="1681.8" cy="1258.3" r="7.00"/><circle cx="1709.2" cy="1258.3" r="7.00"/><circle cx="1736.7" cy="1258.3" r="7.00"/><circle cx="1764.2" cy="1258.3" r="7.00"/><circle cx="1626.8" cy="1285.8" r="3.00"/><circle cx="1654.3" cy="1285.8" r="7.00"/><circle cx="1681.8" cy="1285.8" r="6.75"/><circle cx="1709.2" cy="1285.8" r="6.50"/><circle cx="1736.7" cy="1285.8" r="5.75"/><circle cx="1764.2" cy="1285.8" r="5.00"/></g><path d="M1272 131L1167 236M1263 131L1368 236M1513 131L1408 236M1621 131L1516 236M1772 445L1576 641M1553 312L1772 531" stroke="#fff" stroke-opacity="0.85" stroke-width="1.6" fill="none"/></svg>
<div id="hdr"></div>
<div id="hline"></div>
<div class="t" id="title" style="transform:translate(169.95px,38.70px) scale(0.7474,0.9850)">5-STAR INSURANCE INNOVATORS BY NUMBER OF YEARS IN OPERATION</div>
<div id="axis"></div>
<svg class="hs" style="left:1113.2px;top:236px" width="518.8" height="75" viewBox="0 0 518.8 75"><rect width="518.8" height="75" fill="#9d9c9b"/><path d="M-131.50 0L-206.50 75M-97.60 0L-172.60 75M-63.70 0L-138.70 75M-29.80 0L-104.80 75M4.10 0L-70.90 75M38.00 0L-37.00 75M71.90 0L-3.10 75M105.80 0L30.80 75M139.70 0L64.70 75M173.60 0L98.60 75M207.50 0L132.50 75M241.40 0L166.40 75M275.30 0L200.30 75M309.20 0L234.20 75M343.10 0L268.10 75M377.00 0L302.00 75M410.90 0L335.90 75M444.80 0L369.80 75M478.70 0L403.70 75M512.60 0L437.60 75M546.50 0L471.50 75M580.40 0L505.40 75" stroke="#e9e9e9" stroke-width="1.48" fill="none"/></svg>
<div class="bar" style="top:236px;width:700.2px;background:#43ae4b;"></div>
<svg class="hs" style="left:1325.9px;top:376px" width="305.1" height="75" viewBox="0 0 305.1 75"><rect width="305.1" height="75" fill="#9d9c9b"/><path d="M-131.10 0L-206.10 75M-97.20 0L-172.20 75M-63.30 0L-138.30 75M-29.40 0L-104.40 75M4.50 0L-70.50 75M38.40 0L-36.60 75M72.30 0L-2.70 75M106.20 0L31.20 75M140.10 0L65.10 75M174.00 0L99.00 75M207.90 0L132.90 75M241.80 0L166.80 75M275.70 0L200.70 75M309.60 0L234.60 75M343.50 0L268.50 75M377.40 0L302.40 75" stroke="#e9e9e9" stroke-width="1.48" fill="none"/></svg>
<div class="bar" style="top:376px;width:912.9px;background:#ed6325;"></div>
<svg class="hs" style="left:1214.1px;top:516px" width="417.9" height="75" viewBox="0 0 417.9 75"><rect width="417.9" height="75" fill="#9d9c9b"/><path d="M-130.50 0L-205.50 75M-96.60 0L-171.60 75M-62.70 0L-137.70 75M-28.80 0L-103.80 75M5.10 0L-69.90 75M39.00 0L-36.00 75M72.90 0L-2.10 75M106.80 0L31.80 75M140.70 0L65.70 75M174.60 0L99.60 75M208.50 0L133.50 75M242.40 0L167.40 75M276.30 0L201.30 75M310.20 0L235.20 75M344.10 0L269.10 75M378.00 0L303.00 75M411.90 0L336.90 75M445.80 0L370.80 75M479.70 0L404.70 75" stroke="#e9e9e9" stroke-width="1.48" fill="none"/></svg>
<div class="bar" style="top:516px;width:801.1px;background:#d2222b;"></div>
<svg class="hs" style="left:681.7px;top:656px" width="950.3" height="75" viewBox="0 0 950.3 75"><rect width="950.3" height="75" fill="#9d9c9b"/><path d="M-125.50 0L-200.50 75M-91.60 0L-166.60 75M-57.70 0L-132.70 75M-23.80 0L-98.80 75M10.10 0L-64.90 75M44.00 0L-31.00 75M77.90 0L2.90 75M111.80 0L36.80 75M145.70 0L70.70 75M179.60 0L104.60 75M213.50 0L138.50 75M247.40 0L172.40 75M281.30 0L206.30 75M315.20 0L240.20 75M349.10 0L274.10 75M383.00 0L308.00 75M416.90 0L341.90 75M450.80 0L375.80 75M484.70 0L409.70 75M518.60 0L443.60 75M552.50 0L477.50 75M586.40 0L511.40 75M620.30 0L545.30 75M654.20 0L579.20 75M688.10 0L613.10 75M722.00 0L647.00 75M755.90 0L680.90 75M789.80 0L714.80 75M823.70 0L748.70 75M857.60 0L782.60 75M891.50 0L816.50 75M925.40 0L850.40 75M959.30 0L884.30 75M993.20 0L918.20 75M1027.10 0L952.10 75" stroke="#e9e9e9" stroke-width="1.48" fill="none"/></svg>
<div class="bar" style="top:656px;width:268.7px;background:#58c5ce;"></div>
<svg class="hs" style="left:682.0px;top:796px" width="950.0" height="75" viewBox="0 0 950.0 75"><rect width="950.0" height="75" fill="#9d9c9b"/><path d="M-125.80 0L-200.80 75M-91.90 0L-166.90 75M-58.00 0L-133.00 75M-24.10 0L-99.10 75M9.80 0L-65.20 75M43.70 0L-31.30 75M77.60 0L2.60 75M111.50 0L36.50 75M145.40 0L70.40 75M179.30 0L104.30 75M213.20 0L138.20 75M247.10 0L172.10 75M281.00 0L206.00 75M314.90 0L239.90 75M348.80 0L273.80 75M382.70 0L307.70 75M416.60 0L341.60 75M450.50 0L375.50 75M484.40 0L409.40 75M518.30 0L443.30 75M552.20 0L477.20 75M586.10 0L511.10 75M620.00 0L545.00 75M653.90 0L578.90 75M687.80 0L612.80 75M721.70 0L646.70 75M755.60 0L680.60 75M789.50 0L714.50 75M823.40 0L748.40 75M857.30 0L782.30 75M891.20 0L816.20 75M925.10 0L850.10 75M959.00 0L884.00 75M992.90 0L917.90 75M1026.80 0L951.80 75" stroke="#e9e9e9" stroke-width="1.48" fill="none"/></svg>
<div class="bar" style="top:796px;width:269.0px;background:#e5a915;"></div>
<svg class="hs" style="left:819.5px;top:944px" width="809.5" height="75" viewBox="0 0 809.5 75"><rect width="809.5" height="75" fill="#9d9c9b"/><path d="M-131.80 0L-206.80 75M-97.90 0L-172.90 75M-64.00 0L-139.00 75M-30.10 0L-105.10 75M3.80 0L-71.20 75M37.70 0L-37.30 75M71.60 0L-3.40 75M105.50 0L30.50 75M139.40 0L64.40 75M173.30 0L98.30 75M207.20 0L132.20 75M241.10 0L166.10 75M275.00 0L200.00 75M308.90 0L233.90 75M342.80 0L267.80 75M376.70 0L301.70 75M410.60 0L335.60 75M444.50 0L369.50 75M478.40 0L403.40 75M512.30 0L437.30 75M546.20 0L471.20 75M580.10 0L505.10 75M614.00 0L539.00 75M647.90 0L572.90 75M681.80 0L606.80 75M715.70 0L640.70 75M749.60 0L674.60 75M783.50 0L708.50 75M817.40 0L742.40 75M851.30 0L776.30 75M885.20 0L810.20 75" stroke="#e9e9e9" stroke-width="1.48" fill="none"/></svg>
<div class="bar" style="top:944px;width:406.5px;background:#83267f;"></div>
<svg class="hs" style="left:952.9px;top:1092px" width="679.1" height="75" viewBox="0 0 679.1 75"><rect width="679.1" height="75" fill="#9d9c9b"/><path d="M-126.60 0L-201.60 75M-92.70 0L-167.70 75M-58.80 0L-133.80 75M-24.90 0L-99.90 75M9.00 0L-66.00 75M42.90 0L-32.10 75M76.80 0L1.80 75M110.70 0L35.70 75M144.60 0L69.60 75M178.50 0L103.50 75M212.40 0L137.40 75M246.30 0L171.30 75M280.20 0L205.20 75M314.10 0L239.10 75M348.00 0L273.00 75M381.90 0L306.90 75M415.80 0L340.80 75M449.70 0L374.70 75M483.60 0L408.60 75M517.50 0L442.50 75M551.40 0L476.40 75M585.30 0L510.30 75M619.20 0L544.20 75M653.10 0L578.10 75M687.00 0L612.00 75M720.90 0L645.90 75M754.80 0L679.80 75" stroke="#e9e9e9" stroke-width="1.48" fill="none"/></svg>
<div class="bar" style="top:1092px;width:539.9px;background:#002a6a;"></div>
<div class="t lab" id="l1" style="transform:translate(129.66px,256.00px) scale(0.7798,1.0000)">Less than 5 years</div>
<div class="t lab" id="l2" style="transform:translate(224.12px,390.90px) scale(0.7827,1.0000)">5–10 years</div>
<div class="t lab" id="l3" style="transform:translate(209.56px,536.90px) scale(0.7803,1.0000)">11–20 years</div>
<div class="t lab" id="l4" style="transform:translate(205.72px,674.10px) scale(0.7880,1.0000)">21–30 years</div>
<div class="t lab" id="l5" style="transform:translate(202.71px,814.80px) scale(0.7876,1.0000)">31–50 years</div>
<div class="t lab" id="l6" style="transform:translate(190.54px,965.00px) scale(0.7639,1.0000)">51–100 years</div>
<div class="t lab" id="l7" style="transform:translate(174.45px,1113.00px) scale(0.7463,1.0000)">Over 100 years</div>
<div class="t pct" id="p1" style="transform:translate(1030.02px,254.07px) scale(0.7916,0.9710)">20%</div>
<div class="t pct" id="p2" style="transform:translate(1239.10px,396.19px) scale(0.8024,0.9677)">28%</div>
<div class="t pct" id="p3" style="transform:translate(1126.23px,535.19px) scale(0.7867,0.9677)">24%</div>
<div class="t pct" id="p4" style="transform:translate(614.80px,676.02px) scale(0.7836,0.9806)">4%</div>
<div class="t pct" id="p5" style="transform:translate(614.80px,817.37px) scale(0.7836,0.9548)">4%</div>
<div class="t pct" id="p6" style="transform:translate(754.22px,963.93px) scale(0.7767,0.9290)">8%</div>
<div class="t pct" id="p7" style="transform:translate(869.79px,1112.72px) scale(0.7378,0.9806)">12%</div>
</body>
</html>
